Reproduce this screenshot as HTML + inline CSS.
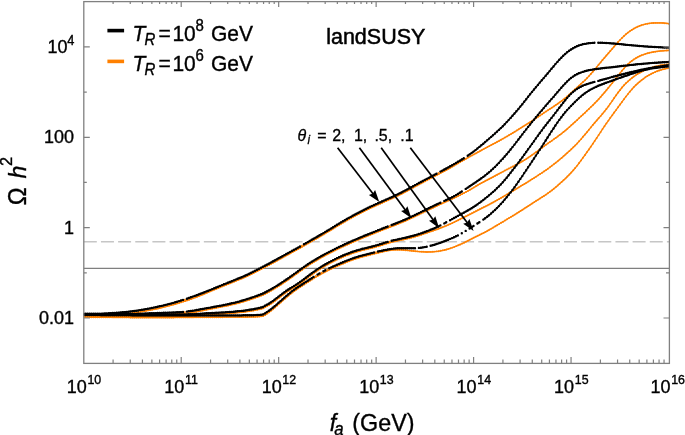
<!DOCTYPE html>
<html><head><meta charset="utf-8"><title>plot</title>
<style>
html,body{margin:0;padding:0;background:#fff;}
body{width:685px;height:435px;overflow:hidden;}
svg{display:block;will-change:transform;}
text{font-family:"Liberation Sans",sans-serif;fill:#000;}
.it{font-style:italic;}
</style></head><body>
<svg width="685" height="435" viewBox="0 0 685 435">
<rect x="0" y="0" width="685" height="435" fill="#fff"/>

<line x1="83.8" y1="241.8" x2="669.5" y2="241.8" stroke="#c6c6c6" stroke-width="1.6" stroke-dasharray="13 4.15" stroke-dashoffset="0"/>
<line x1="83.8" y1="268.4" x2="669.5" y2="268.4" stroke="#7f7f7f" stroke-width="1.3"/>
<clipPath id="cp"><rect x="83.8" y="1.6" width="585.6" height="361.8"/></clipPath><g clip-path="url(#cp)">
<path d="M83.8 315.6L85.8 315.6L87.7 315.6L89.7 315.6L91.6 315.6L93.6 315.5L95.5 315.5L97.5 315.5L99.4 315.4L101.4 315.4L103.3 315.3L105.3 315.2L107.2 315.1L109.2 315.0L111.1 314.8L113.1 314.7L115.0 314.5L117.0 314.4L118.9 314.3L120.9 314.1L122.8 314.0L124.8 313.8L126.7 313.6L128.7 313.4L130.6 313.2L132.6 313.0L134.5 312.7L136.5 312.5L138.4 312.2L140.4 311.8L142.3 311.5L144.3 311.2L146.2 310.8L148.2 310.4L150.1 310.1L152.1 309.7L154.0 309.3L156.0 308.9L157.9 308.5L159.9 308.0L161.8 307.6L163.8 307.1L165.7 306.6L167.7 306.1L169.6 305.6L171.6 305.1L173.5 304.6L175.5 304.0L177.4 303.4L179.4 302.8L181.3 302.2L183.3 301.6L185.2 301.0L187.2 300.4L189.1 299.7L191.1 299.0L193.0 298.3L195.0 297.6L196.9 296.9L198.9 296.1L200.8 295.3L202.8 294.5L204.7 293.7L206.7 292.9L208.6 292.1L210.6 291.2L212.5 290.4L214.5 289.6L216.4 288.8L218.4 288.0L220.3 287.2L222.3 286.4L224.2 285.6L226.2 284.8L228.1 284.1L230.1 283.3L232.0 282.5L234.0 281.7L235.9 280.9L237.9 280.1L239.8 279.3L241.8 278.5L243.7 277.7L245.7 276.8L247.6 276.0L249.6 275.0L251.5 274.1L253.5 273.1L255.4 272.1L257.4 271.1L259.3 270.1L261.3 269.1L263.2 268.1L265.2 267.0L267.1 266.0L269.1 265.0L271.0 263.9L273.0 262.8L274.9 261.8L276.9 260.7L278.8 259.6L280.8 258.6L282.7 257.5L284.7 256.4L286.6 255.3L288.6 254.3L290.5 253.2L292.5 252.1L294.4 251.1L296.4 250.0L298.3 248.9L300.3 247.8L302.2 246.7L304.2 245.6L306.1 244.5L308.1 243.4L310.0 242.3L312.0 241.1L313.9 240.0L315.9 238.9L317.8 237.8L319.8 236.6L321.7 235.5L323.7 234.4L325.6 233.2L327.6 232.0L329.5 230.9L331.5 229.7L333.4 228.5L335.4 227.3L337.3 226.1L339.3 224.9L341.2 223.7L343.2 222.6L345.1 221.5L347.1 220.3L349.0 219.2L351.0 218.2L352.9 217.1L354.9 216.0L356.8 215.0L358.8 214.0L360.7 213.0L362.7 212.0L364.6 211.0L366.6 210.0L368.5 209.1L370.5 208.1L372.4 207.2L374.4 206.3L376.3 205.4L378.3 204.5L380.2 203.7L382.2 202.8L384.1 201.9L386.1 201.1L388.0 200.2L390.0 199.3L391.9 198.5L393.9 197.6L395.8 196.6L397.8 195.7L399.7 194.7L401.7 193.8L403.6 192.7L405.6 191.7L407.5 190.7L409.5 189.6L411.4 188.6L413.4 187.5L415.3 186.4L417.3 185.4L419.2 184.3L421.2 183.3L423.1 182.3L425.1 181.2L427.0 180.2L429.0 179.2L430.9 178.1L432.9 177.1L434.8 176.1L436.8 175.1L438.7 174.1L440.7 173.0L442.6 172.0L444.6 171.0L446.5 169.9L448.5 168.8L450.4 167.7L452.4 166.6L454.3 165.5L456.3 164.3L458.2 163.2L460.2 162.0L462.1 160.9L464.1 159.8L466.0 158.7L468.0 157.6L469.9 156.5L471.9 155.5L473.8 154.4L475.8 153.4L477.7 152.3L479.7 151.3L481.6 150.2L483.6 149.1L485.5 148.1L487.5 147.0L489.4 146.0L491.4 144.9L493.3 143.9L495.3 142.9L497.2 141.8L499.2 140.8L501.1 139.7L503.1 138.6L505.0 137.5L507.0 136.4L508.9 135.2L510.9 134.1L512.8 132.9L514.8 131.7L516.7 130.5L518.7 129.3L520.6 128.1L522.6 126.8L524.5 125.6L526.5 124.4L528.4 123.2L530.4 121.9L532.3 120.7L534.3 119.4L536.2 118.1L538.2 116.8L540.1 115.5L542.1 114.2L544.0 112.8L546.0 111.5L547.9 110.2L549.9 108.9L551.8 107.7L553.8 106.4L555.7 105.1L557.7 103.8L559.6 102.4L561.6 101.0L563.5 99.5L565.5 97.9L567.4 96.2L569.4 94.4L571.3 92.7L573.3 90.9L575.2 89.1L577.2 87.4L579.1 85.6L581.1 83.8L583.0 82.0L585.0 80.2L586.9 78.2L588.9 76.1L590.8 74.0L592.8 71.8L594.7 69.5L596.7 67.1L598.6 64.7L600.6 62.4L602.5 60.0L604.5 57.7L606.4 55.5L608.4 53.2L610.3 51.0L612.3 48.7L614.2 46.5L616.2 44.2L618.1 42.0L620.1 39.9L622.0 37.9L624.0 36.0L625.9 34.2L627.9 32.6L629.8 31.2L631.8 29.9L633.7 28.7L635.7 27.6L637.6 26.7L639.6 25.9L641.5 25.2L643.5 24.6L645.4 24.1L647.4 23.7L649.3 23.4L651.3 23.1L653.2 23.0L655.2 22.9L657.1 22.9L659.1 22.9L661.0 22.9L663.0 23.0L664.9 23.2L666.9 23.4L668.8 23.7" fill="none" stroke="#ff8000" stroke-width="1.35" stroke-linejoin="round"/>
<path d="M83.8 315.6h0M85.8 315.6h0M87.7 315.6h0M89.7 315.6h0M91.6 315.6h0M93.6 315.5h0M95.5 315.5h0M97.5 315.5h0M99.4 315.4h0M101.4 315.4h0M103.3 315.3h0M105.3 315.2h0M107.2 315.1h0M109.2 315.0h0M111.1 314.8h0M113.1 314.7h0M115.0 314.5h0M117.0 314.4h0M118.9 314.3h0M120.9 314.1h0M122.8 314.0h0M124.8 313.8h0M126.7 313.6h0M128.7 313.4h0M130.6 313.2h0M132.6 313.0h0M134.5 312.7h0M136.5 312.5h0M138.4 312.2h0M140.4 311.8h0M142.3 311.5h0M144.3 311.2h0M146.2 310.8h0M148.2 310.4h0M150.1 310.1h0M152.1 309.7h0M154.0 309.3h0M156.0 308.9h0M157.9 308.5h0M159.9 308.0h0M161.8 307.6h0M163.8 307.1h0M165.7 306.6h0M167.7 306.1h0M169.6 305.6h0M171.6 305.1h0M173.5 304.6h0M175.5 304.0h0M177.4 303.4h0M179.4 302.8h0M181.3 302.2h0M183.3 301.6h0M185.2 301.0h0M187.2 300.4h0M189.1 299.7h0M191.1 299.0h0M193.0 298.3h0M195.0 297.6h0M196.9 296.9h0M198.9 296.1h0M200.8 295.3h0M202.8 294.5h0M204.7 293.7h0M206.7 292.9h0M208.6 292.1h0M210.6 291.2h0M212.5 290.4h0M214.5 289.6h0M216.4 288.8h0M218.4 288.0h0M220.3 287.2h0M222.3 286.4h0M224.2 285.6h0M226.2 284.8h0M228.1 284.1h0M230.1 283.3h0M232.0 282.5h0M234.0 281.7h0M235.9 280.9h0M237.9 280.1h0M239.8 279.3h0M241.8 278.5h0M243.7 277.7h0M245.7 276.8h0M247.6 276.0h0M249.6 275.0h0M251.5 274.1h0M253.5 273.1h0M255.4 272.1h0M257.4 271.1h0M259.3 270.1h0M261.3 269.1h0M263.2 268.1h0M265.2 267.0h0M267.1 266.0h0M269.1 265.0h0M271.0 263.9h0M273.0 262.8h0M274.9 261.8h0M276.9 260.7h0M278.8 259.6h0M280.8 258.6h0M282.7 257.5h0M284.7 256.4h0M286.6 255.3h0M288.6 254.3h0M290.5 253.2h0M292.5 252.1h0M294.4 251.1h0M296.4 250.0h0M298.3 248.9h0M300.3 247.8h0M302.2 246.7h0M304.2 245.6h0M306.1 244.5h0M308.1 243.4h0M310.0 242.3h0M312.0 241.1h0M313.9 240.0h0M315.9 238.9h0M317.8 237.8h0M319.8 236.6h0M321.7 235.5h0M323.7 234.4h0M325.6 233.2h0M327.6 232.0h0M329.5 230.9h0M331.5 229.7h0M333.4 228.5h0M335.4 227.3h0M337.3 226.1h0M339.3 224.9h0M341.2 223.7h0M343.2 222.6h0M345.1 221.5h0M347.1 220.3h0M349.0 219.2h0M351.0 218.2h0M352.9 217.1h0M354.9 216.0h0M356.8 215.0h0M358.8 214.0h0M360.7 213.0h0M362.7 212.0h0M364.6 211.0h0M366.6 210.0h0M368.5 209.1h0M370.5 208.1h0M372.4 207.2h0M374.4 206.3h0M376.3 205.4h0M378.3 204.5h0M380.2 203.7h0M382.2 202.8h0M384.1 201.9h0M386.1 201.1h0M388.0 200.2h0M390.0 199.3h0M391.9 198.5h0M393.9 197.6h0M395.8 196.6h0M397.8 195.7h0M399.7 194.7h0M401.7 193.8h0M403.6 192.7h0M405.6 191.7h0M407.5 190.7h0M409.5 189.6h0M411.4 188.6h0M413.4 187.5h0M415.3 186.4h0M417.3 185.4h0M419.2 184.3h0M421.2 183.3h0M423.1 182.3h0M425.1 181.2h0M427.0 180.2h0M429.0 179.2h0M430.9 178.1h0M432.9 177.1h0M434.8 176.1h0M436.8 175.1h0M438.7 174.1h0M440.7 173.0h0M442.6 172.0h0M444.6 171.0h0M446.5 169.9h0M448.5 168.8h0M450.4 167.7h0M452.4 166.6h0M454.3 165.5h0M456.3 164.3h0M458.2 163.2h0M460.2 162.0h0M462.1 160.9h0M464.1 159.8h0M466.0 158.7h0M468.0 157.6h0M469.9 156.5h0M471.9 155.5h0M473.8 154.4h0M475.8 153.4h0M477.7 152.3h0M479.7 151.3h0M481.6 150.2h0M483.6 149.1h0M485.5 148.1h0M487.5 147.0h0M489.4 146.0h0M491.4 144.9h0M493.3 143.9h0M495.3 142.9h0M497.2 141.8h0M499.2 140.8h0M501.1 139.7h0M503.1 138.6h0M505.0 137.5h0M507.0 136.4h0M508.9 135.2h0M510.9 134.1h0M512.8 132.9h0M514.8 131.7h0M516.7 130.5h0M518.7 129.3h0M520.6 128.1h0M522.6 126.8h0M524.5 125.6h0M526.5 124.4h0M528.4 123.2h0M530.4 121.9h0M532.3 120.7h0M534.3 119.4h0M536.2 118.1h0M538.2 116.8h0M540.1 115.5h0M542.1 114.2h0M544.0 112.8h0M546.0 111.5h0M547.9 110.2h0M549.9 108.9h0M551.8 107.7h0M553.8 106.4h0M555.7 105.1h0M557.7 103.8h0M559.6 102.4h0M561.6 101.0h0M563.5 99.5h0M565.5 97.9h0M567.4 96.2h0M569.4 94.4h0M571.3 92.7h0M573.3 90.9h0M575.2 89.1h0M577.2 87.4h0M579.1 85.6h0M581.1 83.8h0M583.0 82.0h0M585.0 80.2h0M586.9 78.2h0M588.9 76.1h0M590.8 74.0h0M592.8 71.8h0M594.7 69.5h0M596.7 67.1h0M598.6 64.7h0M600.6 62.4h0M602.5 60.0h0M604.5 57.7h0M606.4 55.5h0M608.4 53.2h0M610.3 51.0h0M612.3 48.7h0M614.2 46.5h0M616.2 44.2h0M618.1 42.0h0M620.1 39.9h0M622.0 37.9h0M624.0 36.0h0M625.9 34.2h0M627.9 32.6h0M629.8 31.2h0M631.8 29.9h0M633.7 28.7h0M635.7 27.6h0M637.6 26.7h0M639.6 25.9h0M641.5 25.2h0M643.5 24.6h0M645.4 24.1h0M647.4 23.7h0M649.3 23.4h0M651.3 23.1h0M653.2 23.0h0M655.2 22.9h0M657.1 22.9h0M659.1 22.9h0M661.0 22.9h0M663.0 23.0h0M664.9 23.2h0M666.9 23.4h0M668.8 23.7h0" fill="none" stroke="#ff8000" stroke-width="1.9" stroke-linecap="round"/>
<path d="M83.8 316.1L85.8 316.1L87.7 316.1L89.7 316.1L91.6 316.1L93.6 316.1L95.5 316.1L97.5 316.1L99.4 316.0L101.4 316.0L103.3 316.0L105.3 316.0L107.2 316.0L109.2 316.0L111.1 315.9L113.1 315.9L115.0 315.9L117.0 315.9L118.9 315.9L120.9 315.8L122.8 315.8L124.8 315.8L126.7 315.7L128.7 315.7L130.6 315.7L132.6 315.6L134.5 315.6L136.5 315.5L138.4 315.5L140.4 315.4L142.3 315.3L144.3 315.3L146.2 315.2L148.2 315.1L150.1 315.0L152.1 314.9L154.0 314.9L156.0 314.8L157.9 314.7L159.9 314.6L161.8 314.6L163.8 314.5L165.7 314.4L167.7 314.4L169.6 314.3L171.6 314.3L173.5 314.2L175.5 314.1L177.4 314.0L179.4 313.9L181.3 313.8L183.3 313.7L185.2 313.5L187.2 313.3L189.1 313.0L191.1 312.7L193.0 312.4L195.0 312.1L196.9 311.7L198.9 311.3L200.8 310.9L202.8 310.5L204.7 310.1L206.7 309.7L208.6 309.3L210.6 308.9L212.5 308.5L214.5 308.2L216.4 307.8L218.4 307.4L220.3 307.0L222.3 306.6L224.2 306.3L226.2 305.9L228.1 305.5L230.1 305.0L232.0 304.6L234.0 304.2L235.9 303.7L237.9 303.2L239.8 302.7L241.8 302.1L243.7 301.5L245.7 300.9L247.6 300.3L249.6 299.7L251.5 299.1L253.5 298.4L255.4 297.7L257.4 297.0L259.3 296.3L261.3 295.6L263.2 294.8L265.2 293.8L267.1 292.8L269.1 291.7L271.0 290.7L273.0 289.5L274.9 288.4L276.9 287.2L278.8 286.0L280.8 284.7L282.7 283.4L284.7 282.1L286.6 280.8L288.6 279.5L290.5 278.1L292.5 276.7L294.4 275.3L296.4 273.9L298.3 272.5L300.3 271.0L302.2 269.7L304.2 268.3L306.1 266.9L308.1 265.6L310.0 264.3L312.0 263.1L313.9 261.9L315.9 260.7L317.8 259.6L319.8 258.4L321.7 257.3L323.7 256.3L325.6 255.2L327.6 254.2L329.5 253.2L331.5 252.2L333.4 251.2L335.4 250.2L337.3 249.2L339.3 248.3L341.2 247.4L343.2 246.5L345.1 245.6L347.1 244.7L349.0 243.8L351.0 242.9L352.9 242.1L354.9 241.2L356.8 240.4L358.8 239.6L360.7 238.7L362.7 237.9L364.6 237.1L366.6 236.3L368.5 235.5L370.5 234.7L372.4 234.0L374.4 233.2L376.3 232.4L378.3 231.6L380.2 230.9L382.2 230.1L384.1 229.3L386.1 228.5L388.0 227.8L390.0 227.0L391.9 226.3L393.9 225.5L395.8 224.8L397.8 224.0L399.7 223.2L401.7 222.4L403.6 221.6L405.6 220.8L407.5 219.9L409.5 219.0L411.4 218.1L413.4 217.2L415.3 216.2L417.3 215.3L419.2 214.4L421.2 213.4L423.1 212.5L425.1 211.5L427.0 210.6L429.0 209.6L430.9 208.7L432.9 207.8L434.8 206.8L436.8 205.9L438.7 205.0L440.7 204.1L442.6 203.2L444.6 202.3L446.5 201.4L448.5 200.5L450.4 199.6L452.4 198.7L454.3 197.8L456.3 196.9L458.2 196.0L460.2 195.0L462.1 194.0L464.1 193.0L466.0 192.0L468.0 190.9L469.9 189.8L471.9 188.6L473.8 187.5L475.8 186.3L477.7 185.2L479.7 184.0L481.6 182.9L483.6 181.9L485.5 180.8L487.5 179.8L489.4 178.8L491.4 177.8L493.3 176.8L495.3 175.7L497.2 174.7L499.2 173.6L501.1 172.6L503.1 171.6L505.0 170.5L507.0 169.5L508.9 168.5L510.9 167.5L512.8 166.5L514.8 165.5L516.7 164.4L518.7 163.4L520.6 162.3L522.6 161.2L524.5 160.0L526.5 158.8L528.4 157.5L530.4 156.2L532.3 154.8L534.3 153.5L536.2 152.0L538.2 150.6L540.1 149.1L542.1 147.7L544.0 146.3L546.0 144.8L547.9 143.4L549.9 142.0L551.8 140.7L553.8 139.3L555.7 137.9L557.7 136.5L559.6 135.0L561.6 133.6L563.5 132.0L565.5 130.4L567.4 128.8L569.4 127.1L571.3 125.3L573.3 123.5L575.2 121.8L577.2 120.0L579.1 118.1L581.1 116.3L583.0 114.5L585.0 112.7L586.9 110.8L588.9 109.0L590.8 107.1L592.8 105.2L594.7 103.3L596.7 101.3L598.6 99.2L600.6 97.0L602.5 94.8L604.5 92.5L606.4 90.2L608.4 87.8L610.3 85.4L612.3 83.0L614.2 80.5L616.2 78.0L618.1 75.5L620.1 73.1L622.0 70.7L624.0 68.4L625.9 66.3L627.9 64.3L629.8 62.5L631.8 60.9L633.7 59.5L635.7 58.3L637.6 57.2L639.6 56.2L641.5 55.3L643.5 54.6L645.4 53.9L647.4 53.3L649.3 52.8L651.3 52.4L653.2 52.0L655.2 51.7L657.1 51.4L659.1 51.1L661.0 50.9L663.0 50.8L664.9 50.6L666.9 50.5L668.8 50.4" fill="none" stroke="#ff8000" stroke-width="1.35" stroke-linejoin="round"/>
<path d="M83.8 316.1h0M85.8 316.1h0M87.7 316.1h0M89.7 316.1h0M91.6 316.1h0M93.6 316.1h0M95.5 316.1h0M97.5 316.1h0M99.4 316.0h0M101.4 316.0h0M103.3 316.0h0M105.3 316.0h0M107.2 316.0h0M109.2 316.0h0M111.1 315.9h0M113.1 315.9h0M115.0 315.9h0M117.0 315.9h0M118.9 315.9h0M120.9 315.8h0M122.8 315.8h0M124.8 315.8h0M126.7 315.7h0M128.7 315.7h0M130.6 315.7h0M132.6 315.6h0M134.5 315.6h0M136.5 315.5h0M138.4 315.5h0M140.4 315.4h0M142.3 315.3h0M144.3 315.3h0M146.2 315.2h0M148.2 315.1h0M150.1 315.0h0M152.1 314.9h0M154.0 314.9h0M156.0 314.8h0M157.9 314.7h0M159.9 314.6h0M161.8 314.6h0M163.8 314.5h0M165.7 314.4h0M167.7 314.4h0M169.6 314.3h0M171.6 314.3h0M173.5 314.2h0M175.5 314.1h0M177.4 314.0h0M179.4 313.9h0M181.3 313.8h0M183.3 313.7h0M185.2 313.5h0M187.2 313.3h0M189.1 313.0h0M191.1 312.7h0M193.0 312.4h0M195.0 312.1h0M196.9 311.7h0M198.9 311.3h0M200.8 310.9h0M202.8 310.5h0M204.7 310.1h0M206.7 309.7h0M208.6 309.3h0M210.6 308.9h0M212.5 308.5h0M214.5 308.2h0M216.4 307.8h0M218.4 307.4h0M220.3 307.0h0M222.3 306.6h0M224.2 306.3h0M226.2 305.9h0M228.1 305.5h0M230.1 305.0h0M232.0 304.6h0M234.0 304.2h0M235.9 303.7h0M237.9 303.2h0M239.8 302.7h0M241.8 302.1h0M243.7 301.5h0M245.7 300.9h0M247.6 300.3h0M249.6 299.7h0M251.5 299.1h0M253.5 298.4h0M255.4 297.7h0M257.4 297.0h0M259.3 296.3h0M261.3 295.6h0M263.2 294.8h0M265.2 293.8h0M267.1 292.8h0M269.1 291.7h0M271.0 290.7h0M273.0 289.5h0M274.9 288.4h0M276.9 287.2h0M278.8 286.0h0M280.8 284.7h0M282.7 283.4h0M284.7 282.1h0M286.6 280.8h0M288.6 279.5h0M290.5 278.1h0M292.5 276.7h0M294.4 275.3h0M296.4 273.9h0M298.3 272.5h0M300.3 271.0h0M302.2 269.7h0M304.2 268.3h0M306.1 266.9h0M308.1 265.6h0M310.0 264.3h0M312.0 263.1h0M313.9 261.9h0M315.9 260.7h0M317.8 259.6h0M319.8 258.4h0M321.7 257.3h0M323.7 256.3h0M325.6 255.2h0M327.6 254.2h0M329.5 253.2h0M331.5 252.2h0M333.4 251.2h0M335.4 250.2h0M337.3 249.2h0M339.3 248.3h0M341.2 247.4h0M343.2 246.5h0M345.1 245.6h0M347.1 244.7h0M349.0 243.8h0M351.0 242.9h0M352.9 242.1h0M354.9 241.2h0M356.8 240.4h0M358.8 239.6h0M360.7 238.7h0M362.7 237.9h0M364.6 237.1h0M366.6 236.3h0M368.5 235.5h0M370.5 234.7h0M372.4 234.0h0M374.4 233.2h0M376.3 232.4h0M378.3 231.6h0M380.2 230.9h0M382.2 230.1h0M384.1 229.3h0M386.1 228.5h0M388.0 227.8h0M390.0 227.0h0M391.9 226.3h0M393.9 225.5h0M395.8 224.8h0M397.8 224.0h0M399.7 223.2h0M401.7 222.4h0M403.6 221.6h0M405.6 220.8h0M407.5 219.9h0M409.5 219.0h0M411.4 218.1h0M413.4 217.2h0M415.3 216.2h0M417.3 215.3h0M419.2 214.4h0M421.2 213.4h0M423.1 212.5h0M425.1 211.5h0M427.0 210.6h0M429.0 209.6h0M430.9 208.7h0M432.9 207.8h0M434.8 206.8h0M436.8 205.9h0M438.7 205.0h0M440.7 204.1h0M442.6 203.2h0M444.6 202.3h0M446.5 201.4h0M448.5 200.5h0M450.4 199.6h0M452.4 198.7h0M454.3 197.8h0M456.3 196.9h0M458.2 196.0h0M460.2 195.0h0M462.1 194.0h0M464.1 193.0h0M466.0 192.0h0M468.0 190.9h0M469.9 189.8h0M471.9 188.6h0M473.8 187.5h0M475.8 186.3h0M477.7 185.2h0M479.7 184.0h0M481.6 182.9h0M483.6 181.9h0M485.5 180.8h0M487.5 179.8h0M489.4 178.8h0M491.4 177.8h0M493.3 176.8h0M495.3 175.7h0M497.2 174.7h0M499.2 173.6h0M501.1 172.6h0M503.1 171.6h0M505.0 170.5h0M507.0 169.5h0M508.9 168.5h0M510.9 167.5h0M512.8 166.5h0M514.8 165.5h0M516.7 164.4h0M518.7 163.4h0M520.6 162.3h0M522.6 161.2h0M524.5 160.0h0M526.5 158.8h0M528.4 157.5h0M530.4 156.2h0M532.3 154.8h0M534.3 153.5h0M536.2 152.0h0M538.2 150.6h0M540.1 149.1h0M542.1 147.7h0M544.0 146.3h0M546.0 144.8h0M547.9 143.4h0M549.9 142.0h0M551.8 140.7h0M553.8 139.3h0M555.7 137.9h0M557.7 136.5h0M559.6 135.0h0M561.6 133.6h0M563.5 132.0h0M565.5 130.4h0M567.4 128.8h0M569.4 127.1h0M571.3 125.3h0M573.3 123.5h0M575.2 121.8h0M577.2 120.0h0M579.1 118.1h0M581.1 116.3h0M583.0 114.5h0M585.0 112.7h0M586.9 110.8h0M588.9 109.0h0M590.8 107.1h0M592.8 105.2h0M594.7 103.3h0M596.7 101.3h0M598.6 99.2h0M600.6 97.0h0M602.5 94.8h0M604.5 92.5h0M606.4 90.2h0M608.4 87.8h0M610.3 85.4h0M612.3 83.0h0M614.2 80.5h0M616.2 78.0h0M618.1 75.5h0M620.1 73.1h0M622.0 70.7h0M624.0 68.4h0M625.9 66.3h0M627.9 64.3h0M629.8 62.5h0M631.8 60.9h0M633.7 59.5h0M635.7 58.3h0M637.6 57.2h0M639.6 56.2h0M641.5 55.3h0M643.5 54.6h0M645.4 53.9h0M647.4 53.3h0M649.3 52.8h0M651.3 52.4h0M653.2 52.0h0M655.2 51.7h0M657.1 51.4h0M659.1 51.1h0M661.0 50.9h0M663.0 50.8h0M664.9 50.6h0M666.9 50.5h0M668.8 50.4h0" fill="none" stroke="#ff8000" stroke-width="1.9" stroke-linecap="round"/>
<path d="M83.8 316.6L85.8 316.6L87.7 316.6L89.7 316.6L91.6 316.6L93.6 316.6L95.5 316.6L97.5 316.6L99.4 316.6L101.4 316.6L103.3 316.6L105.3 316.6L107.2 316.6L109.2 316.6L111.1 316.6L113.1 316.6L115.0 316.6L117.0 316.6L118.9 316.6L120.9 316.6L122.8 316.5L124.8 316.5L126.7 316.5L128.7 316.5L130.6 316.5L132.6 316.5L134.5 316.5L136.5 316.5L138.4 316.5L140.4 316.5L142.3 316.5L144.3 316.5L146.2 316.5L148.2 316.4L150.1 316.4L152.1 316.4L154.0 316.4L156.0 316.4L157.9 316.4L159.9 316.4L161.8 316.4L163.8 316.3L165.7 316.3L167.7 316.3L169.6 316.3L171.6 316.3L173.5 316.3L175.5 316.2L177.4 316.2L179.4 316.2L181.3 316.2L183.3 316.2L185.2 316.1L187.2 316.1L189.1 316.0L191.1 315.9L193.0 315.8L195.0 315.7L196.9 315.6L198.9 315.4L200.8 315.2L202.8 315.1L204.7 314.9L206.7 314.7L208.6 314.5L210.6 314.4L212.5 314.3L214.5 314.2L216.4 314.1L218.4 314.0L220.3 313.9L222.3 313.8L224.2 313.7L226.2 313.6L228.1 313.4L230.1 313.3L232.0 313.2L234.0 313.0L235.9 312.8L237.9 312.6L239.8 312.4L241.8 312.2L243.7 312.0L245.7 311.7L247.6 311.4L249.6 311.1L251.5 310.8L253.5 310.5L255.4 310.1L257.4 309.7L259.3 309.3L261.3 308.8L263.2 308.3L265.2 307.1L267.1 306.1L269.1 305.0L271.0 303.7L273.0 302.4L274.9 300.9L276.9 299.4L278.8 297.9L280.8 296.4L282.7 294.9L284.7 293.5L286.6 292.1L288.6 290.8L290.5 289.6L292.5 288.4L294.4 287.2L296.4 285.9L298.3 284.7L300.3 283.3L302.2 281.9L304.2 280.5L306.1 279.0L308.1 277.5L310.0 276.0L312.0 274.6L313.9 273.2L315.9 271.8L317.8 270.4L319.8 269.2L321.7 267.9L323.7 266.7L325.6 265.6L327.6 264.5L329.5 263.4L331.5 262.4L333.4 261.4L335.4 260.4L337.3 259.4L339.3 258.5L341.2 257.7L343.2 256.8L345.1 256.0L347.1 255.2L349.0 254.5L351.0 253.7L352.9 253.1L354.9 252.4L356.8 251.8L358.8 251.2L360.7 250.7L362.7 250.1L364.6 249.7L366.6 249.2L368.5 248.7L370.5 248.3L372.4 247.8L374.4 247.3L376.3 246.7L378.3 246.2L380.2 245.6L382.2 245.0L384.1 244.3L386.1 243.7L388.0 243.2L390.0 242.6L391.9 242.1L393.9 241.6L395.8 241.2L397.8 240.7L399.7 240.3L401.7 239.9L403.6 239.5L405.6 239.1L407.5 238.6L409.5 238.2L411.4 237.7L413.4 237.2L415.3 236.6L417.3 236.0L419.2 235.4L421.2 234.8L423.1 234.1L425.1 233.4L427.0 232.8L429.0 232.1L430.9 231.4L432.9 230.8L434.8 230.1L436.8 229.4L438.7 228.7L440.7 227.9L442.6 227.2L444.6 226.4L446.5 225.6L448.5 224.7L450.4 223.9L452.4 223.0L454.3 222.1L456.3 221.1L458.2 220.2L460.2 219.2L462.1 218.2L464.1 217.2L466.0 216.3L468.0 215.3L469.9 214.3L471.9 213.3L473.8 212.3L475.8 211.3L477.7 210.3L479.7 209.3L481.6 208.3L483.6 207.3L485.5 206.4L487.5 205.4L489.4 204.4L491.4 203.3L493.3 202.3L495.3 201.2L497.2 200.1L499.2 199.0L501.1 197.9L503.1 196.7L505.0 195.6L507.0 194.4L508.9 193.2L510.9 192.1L512.8 190.9L514.8 189.7L516.7 188.6L518.7 187.4L520.6 186.2L522.6 185.0L524.5 183.9L526.5 182.7L528.4 181.5L530.4 180.3L532.3 179.0L534.3 177.8L536.2 176.6L538.2 175.3L540.1 174.0L542.1 172.7L544.0 171.4L546.0 170.1L547.9 168.7L549.9 167.3L551.8 165.8L553.8 164.3L555.7 162.8L557.7 161.2L559.6 159.6L561.6 157.9L563.5 156.3L565.5 154.5L567.4 152.8L569.4 151.0L571.3 149.2L573.3 147.3L575.2 145.4L577.2 143.4L579.1 141.3L581.1 139.1L583.0 136.8L585.0 134.5L586.9 132.2L588.9 129.8L590.8 127.4L592.8 125.0L594.7 122.7L596.7 120.5L598.6 118.3L600.6 116.1L602.5 113.8L604.5 111.4L606.4 109.0L608.4 106.4L610.3 103.6L612.3 100.8L614.2 98.0L616.2 95.2L618.1 92.5L620.1 90.0L622.0 87.5L624.0 85.3L625.9 83.3L627.9 81.4L629.8 79.7L631.8 78.1L633.7 76.6L635.7 75.3L637.6 74.0L639.6 72.9L641.5 71.8L643.5 70.8L645.4 69.9L647.4 69.1L649.3 68.4L651.3 67.7L653.2 67.1L655.2 66.5L657.1 66.1L659.1 65.6L661.0 65.2L663.0 64.9L664.9 64.6L666.9 64.4L668.8 64.1" fill="none" stroke="#ff8000" stroke-width="1.35" stroke-linejoin="round"/>
<path d="M83.8 316.6h0M85.8 316.6h0M87.7 316.6h0M89.7 316.6h0M91.6 316.6h0M93.6 316.6h0M95.5 316.6h0M97.5 316.6h0M99.4 316.6h0M101.4 316.6h0M103.3 316.6h0M105.3 316.6h0M107.2 316.6h0M109.2 316.6h0M111.1 316.6h0M113.1 316.6h0M115.0 316.6h0M117.0 316.6h0M118.9 316.6h0M120.9 316.6h0M122.8 316.5h0M124.8 316.5h0M126.7 316.5h0M128.7 316.5h0M130.6 316.5h0M132.6 316.5h0M134.5 316.5h0M136.5 316.5h0M138.4 316.5h0M140.4 316.5h0M142.3 316.5h0M144.3 316.5h0M146.2 316.5h0M148.2 316.4h0M150.1 316.4h0M152.1 316.4h0M154.0 316.4h0M156.0 316.4h0M157.9 316.4h0M159.9 316.4h0M161.8 316.4h0M163.8 316.3h0M165.7 316.3h0M167.7 316.3h0M169.6 316.3h0M171.6 316.3h0M173.5 316.3h0M175.5 316.2h0M177.4 316.2h0M179.4 316.2h0M181.3 316.2h0M183.3 316.2h0M185.2 316.1h0M187.2 316.1h0M189.1 316.0h0M191.1 315.9h0M193.0 315.8h0M195.0 315.7h0M196.9 315.6h0M198.9 315.4h0M200.8 315.2h0M202.8 315.1h0M204.7 314.9h0M206.7 314.7h0M208.6 314.5h0M210.6 314.4h0M212.5 314.3h0M214.5 314.2h0M216.4 314.1h0M218.4 314.0h0M220.3 313.9h0M222.3 313.8h0M224.2 313.7h0M226.2 313.6h0M228.1 313.4h0M230.1 313.3h0M232.0 313.2h0M234.0 313.0h0M235.9 312.8h0M237.9 312.6h0M239.8 312.4h0M241.8 312.2h0M243.7 312.0h0M245.7 311.7h0M247.6 311.4h0M249.6 311.1h0M251.5 310.8h0M253.5 310.5h0M255.4 310.1h0M257.4 309.7h0M259.3 309.3h0M261.3 308.8h0M263.2 308.3h0M265.2 307.1h0M267.1 306.1h0M269.1 305.0h0M271.0 303.7h0M273.0 302.4h0M274.9 300.9h0M276.9 299.4h0M278.8 297.9h0M280.8 296.4h0M282.7 294.9h0M284.7 293.5h0M286.6 292.1h0M288.6 290.8h0M290.5 289.6h0M292.5 288.4h0M294.4 287.2h0M296.4 285.9h0M298.3 284.7h0M300.3 283.3h0M302.2 281.9h0M304.2 280.5h0M306.1 279.0h0M308.1 277.5h0M310.0 276.0h0M312.0 274.6h0M313.9 273.2h0M315.9 271.8h0M317.8 270.4h0M319.8 269.2h0M321.7 267.9h0M323.7 266.7h0M325.6 265.6h0M327.6 264.5h0M329.5 263.4h0M331.5 262.4h0M333.4 261.4h0M335.4 260.4h0M337.3 259.4h0M339.3 258.5h0M341.2 257.7h0M343.2 256.8h0M345.1 256.0h0M347.1 255.2h0M349.0 254.5h0M351.0 253.7h0M352.9 253.1h0M354.9 252.4h0M356.8 251.8h0M358.8 251.2h0M360.7 250.7h0M362.7 250.1h0M364.6 249.7h0M366.6 249.2h0M368.5 248.7h0M370.5 248.3h0M372.4 247.8h0M374.4 247.3h0M376.3 246.7h0M378.3 246.2h0M380.2 245.6h0M382.2 245.0h0M384.1 244.3h0M386.1 243.7h0M388.0 243.2h0M390.0 242.6h0M391.9 242.1h0M393.9 241.6h0M395.8 241.2h0M397.8 240.7h0M399.7 240.3h0M401.7 239.9h0M403.6 239.5h0M405.6 239.1h0M407.5 238.6h0M409.5 238.2h0M411.4 237.7h0M413.4 237.2h0M415.3 236.6h0M417.3 236.0h0M419.2 235.4h0M421.2 234.8h0M423.1 234.1h0M425.1 233.4h0M427.0 232.8h0M429.0 232.1h0M430.9 231.4h0M432.9 230.8h0M434.8 230.1h0M436.8 229.4h0M438.7 228.7h0M440.7 227.9h0M442.6 227.2h0M444.6 226.4h0M446.5 225.6h0M448.5 224.7h0M450.4 223.9h0M452.4 223.0h0M454.3 222.1h0M456.3 221.1h0M458.2 220.2h0M460.2 219.2h0M462.1 218.2h0M464.1 217.2h0M466.0 216.3h0M468.0 215.3h0M469.9 214.3h0M471.9 213.3h0M473.8 212.3h0M475.8 211.3h0M477.7 210.3h0M479.7 209.3h0M481.6 208.3h0M483.6 207.3h0M485.5 206.4h0M487.5 205.4h0M489.4 204.4h0M491.4 203.3h0M493.3 202.3h0M495.3 201.2h0M497.2 200.1h0M499.2 199.0h0M501.1 197.9h0M503.1 196.7h0M505.0 195.6h0M507.0 194.4h0M508.9 193.2h0M510.9 192.1h0M512.8 190.9h0M514.8 189.7h0M516.7 188.6h0M518.7 187.4h0M520.6 186.2h0M522.6 185.0h0M524.5 183.9h0M526.5 182.7h0M528.4 181.5h0M530.4 180.3h0M532.3 179.0h0M534.3 177.8h0M536.2 176.6h0M538.2 175.3h0M540.1 174.0h0M542.1 172.7h0M544.0 171.4h0M546.0 170.1h0M547.9 168.7h0M549.9 167.3h0M551.8 165.8h0M553.8 164.3h0M555.7 162.8h0M557.7 161.2h0M559.6 159.6h0M561.6 157.9h0M563.5 156.3h0M565.5 154.5h0M567.4 152.8h0M569.4 151.0h0M571.3 149.2h0M573.3 147.3h0M575.2 145.4h0M577.2 143.4h0M579.1 141.3h0M581.1 139.1h0M583.0 136.8h0M585.0 134.5h0M586.9 132.2h0M588.9 129.8h0M590.8 127.4h0M592.8 125.0h0M594.7 122.7h0M596.7 120.5h0M598.6 118.3h0M600.6 116.1h0M602.5 113.8h0M604.5 111.4h0M606.4 109.0h0M608.4 106.4h0M610.3 103.6h0M612.3 100.8h0M614.2 98.0h0M616.2 95.2h0M618.1 92.5h0M620.1 90.0h0M622.0 87.5h0M624.0 85.3h0M625.9 83.3h0M627.9 81.4h0M629.8 79.7h0M631.8 78.1h0M633.7 76.6h0M635.7 75.3h0M637.6 74.0h0M639.6 72.9h0M641.5 71.8h0M643.5 70.8h0M645.4 69.9h0M647.4 69.1h0M649.3 68.4h0M651.3 67.7h0M653.2 67.1h0M655.2 66.5h0M657.1 66.1h0M659.1 65.6h0M661.0 65.2h0M663.0 64.9h0M664.9 64.6h0M666.9 64.4h0M668.8 64.1h0" fill="none" stroke="#ff8000" stroke-width="1.9" stroke-linecap="round"/>
<path d="M83.8 317.1L85.8 317.1L87.7 317.1L89.7 317.2L91.6 317.2L93.6 317.2L95.5 317.2L97.5 317.2L99.4 317.3L101.4 317.3L103.3 317.3L105.3 317.3L107.2 317.3L109.2 317.3L111.1 317.3L113.1 317.4L115.0 317.4L117.0 317.4L118.9 317.4L120.9 317.4L122.8 317.4L124.8 317.4L126.7 317.4L128.7 317.4L130.6 317.5L132.6 317.5L134.5 317.5L136.5 317.5L138.4 317.5L140.4 317.5L142.3 317.5L144.3 317.5L146.2 317.5L148.2 317.5L150.1 317.5L152.1 317.5L154.0 317.5L156.0 317.5L157.9 317.5L159.9 317.5L161.8 317.5L163.8 317.5L165.7 317.5L167.7 317.5L169.6 317.5L171.6 317.5L173.5 317.5L175.5 317.4L177.4 317.4L179.4 317.4L181.3 317.4L183.3 317.4L185.2 317.4L187.2 317.4L189.1 317.4L191.1 317.4L193.0 317.4L195.0 317.3L196.9 317.3L198.9 317.3L200.8 317.3L202.8 317.3L204.7 317.3L206.7 317.3L208.6 317.3L210.6 317.2L212.5 317.2L214.5 317.2L216.4 317.2L218.4 317.2L220.3 317.2L222.3 317.2L224.2 317.1L226.2 317.1L228.1 317.1L230.1 317.1L232.0 317.1L234.0 317.1L235.9 317.1L237.9 317.1L239.8 317.0L241.8 317.0L243.7 317.0L245.7 317.0L247.6 317.0L249.6 316.9L251.5 316.9L253.5 316.9L255.4 316.8L257.4 316.7L259.3 316.5L261.3 316.3L263.2 316.0L265.2 315.0L267.1 313.6L269.1 312.2L271.0 310.7L273.0 309.2L274.9 307.5L276.9 305.8L278.8 304.1L280.8 302.4L282.7 300.6L284.7 298.9L286.6 297.2L288.6 295.6L290.5 294.0L292.5 292.4L294.4 291.0L296.4 289.6L298.3 288.3L300.3 287.0L302.2 285.8L304.2 284.5L306.1 283.2L308.1 282.0L310.0 280.7L312.0 279.5L313.9 278.2L315.9 277.0L317.8 275.9L319.8 274.7L321.7 273.6L323.7 272.6L325.6 271.6L327.6 270.6L329.5 269.6L331.5 268.7L333.4 267.8L335.4 266.9L337.3 266.0L339.3 265.2L341.2 264.3L343.2 263.5L345.1 262.7L347.1 261.9L349.0 261.2L351.0 260.4L352.9 259.7L354.9 259.1L356.8 258.4L358.8 257.8L360.7 257.2L362.7 256.7L364.6 256.2L366.6 255.7L368.5 255.2L370.5 254.7L372.4 254.2L374.4 253.7L376.3 253.3L378.3 252.8L380.2 252.3L382.2 251.9L384.1 251.4L386.1 251.0L388.0 250.6L390.0 250.3L391.9 250.1L393.9 249.9L395.8 249.8L397.8 249.8L399.7 249.8L401.7 249.9L403.6 250.1L405.6 250.2L407.5 250.4L409.5 250.6L411.4 250.8L413.4 251.0L415.3 251.2L417.3 251.4L419.2 251.6L421.2 251.7L423.1 251.8L425.1 251.9L427.0 252.0L429.0 251.9L430.9 251.9L432.9 251.8L434.8 251.6L436.8 251.4L438.7 251.2L440.7 250.8L442.6 250.4L444.6 250.0L446.5 249.5L448.5 248.9L450.4 248.3L452.4 247.6L454.3 246.9L456.3 246.1L458.2 245.3L460.2 244.5L462.1 243.6L464.1 242.7L466.0 241.7L468.0 240.7L469.9 239.7L471.9 238.7L473.8 237.7L475.8 236.7L477.7 235.8L479.7 234.8L481.6 233.8L483.6 232.9L485.5 231.9L487.5 230.8L489.4 229.7L491.4 228.6L493.3 227.5L495.3 226.3L497.2 225.2L499.2 224.0L501.1 222.8L503.1 221.7L505.0 220.5L507.0 219.3L508.9 218.1L510.9 217.0L512.8 215.8L514.8 214.6L516.7 213.4L518.7 212.2L520.6 210.9L522.6 209.7L524.5 208.4L526.5 207.2L528.4 205.9L530.4 204.6L532.3 203.4L534.3 202.1L536.2 200.8L538.2 199.6L540.1 198.4L542.1 197.1L544.0 195.9L546.0 194.6L547.9 193.2L549.9 191.8L551.8 190.4L553.8 188.8L555.7 187.2L557.7 185.5L559.6 183.8L561.6 182.0L563.5 180.2L565.5 178.4L567.4 176.5L569.4 174.5L571.3 172.5L573.3 170.3L575.2 168.0L577.2 165.6L579.1 163.0L581.1 160.4L583.0 157.7L585.0 155.0L586.9 152.2L588.9 149.5L590.8 146.7L592.8 143.8L594.7 140.9L596.7 138.0L598.6 135.1L600.6 132.1L602.5 129.1L604.5 126.2L606.4 123.4L608.4 120.6L610.3 117.8L612.3 115.2L614.2 112.5L616.2 109.9L618.1 107.2L620.1 104.5L622.0 101.9L624.0 99.2L625.9 96.6L627.9 94.1L629.8 91.7L631.8 89.4L633.7 87.3L635.7 85.3L637.6 83.5L639.6 81.7L641.5 80.2L643.5 78.7L645.4 77.3L647.4 76.0L649.3 74.9L651.3 73.8L653.2 72.9L655.2 72.0L657.1 71.2L659.1 70.5L661.0 69.9L663.0 69.3L664.9 68.9L666.9 68.4L668.8 68.1" fill="none" stroke="#ff8000" stroke-width="1.35" stroke-linejoin="round"/>
<path d="M83.8 317.1h0M85.8 317.1h0M87.7 317.1h0M89.7 317.2h0M91.6 317.2h0M93.6 317.2h0M95.5 317.2h0M97.5 317.2h0M99.4 317.3h0M101.4 317.3h0M103.3 317.3h0M105.3 317.3h0M107.2 317.3h0M109.2 317.3h0M111.1 317.3h0M113.1 317.4h0M115.0 317.4h0M117.0 317.4h0M118.9 317.4h0M120.9 317.4h0M122.8 317.4h0M124.8 317.4h0M126.7 317.4h0M128.7 317.4h0M130.6 317.5h0M132.6 317.5h0M134.5 317.5h0M136.5 317.5h0M138.4 317.5h0M140.4 317.5h0M142.3 317.5h0M144.3 317.5h0M146.2 317.5h0M148.2 317.5h0M150.1 317.5h0M152.1 317.5h0M154.0 317.5h0M156.0 317.5h0M157.9 317.5h0M159.9 317.5h0M161.8 317.5h0M163.8 317.5h0M165.7 317.5h0M167.7 317.5h0M169.6 317.5h0M171.6 317.5h0M173.5 317.5h0M175.5 317.4h0M177.4 317.4h0M179.4 317.4h0M181.3 317.4h0M183.3 317.4h0M185.2 317.4h0M187.2 317.4h0M189.1 317.4h0M191.1 317.4h0M193.0 317.4h0M195.0 317.3h0M196.9 317.3h0M198.9 317.3h0M200.8 317.3h0M202.8 317.3h0M204.7 317.3h0M206.7 317.3h0M208.6 317.3h0M210.6 317.2h0M212.5 317.2h0M214.5 317.2h0M216.4 317.2h0M218.4 317.2h0M220.3 317.2h0M222.3 317.2h0M224.2 317.1h0M226.2 317.1h0M228.1 317.1h0M230.1 317.1h0M232.0 317.1h0M234.0 317.1h0M235.9 317.1h0M237.9 317.1h0M239.8 317.0h0M241.8 317.0h0M243.7 317.0h0M245.7 317.0h0M247.6 317.0h0M249.6 316.9h0M251.5 316.9h0M253.5 316.9h0M255.4 316.8h0M257.4 316.7h0M259.3 316.5h0M261.3 316.3h0M263.2 316.0h0M265.2 315.0h0M267.1 313.6h0M269.1 312.2h0M271.0 310.7h0M273.0 309.2h0M274.9 307.5h0M276.9 305.8h0M278.8 304.1h0M280.8 302.4h0M282.7 300.6h0M284.7 298.9h0M286.6 297.2h0M288.6 295.6h0M290.5 294.0h0M292.5 292.4h0M294.4 291.0h0M296.4 289.6h0M298.3 288.3h0M300.3 287.0h0M302.2 285.8h0M304.2 284.5h0M306.1 283.2h0M308.1 282.0h0M310.0 280.7h0M312.0 279.5h0M313.9 278.2h0M315.9 277.0h0M317.8 275.9h0M319.8 274.7h0M321.7 273.6h0M323.7 272.6h0M325.6 271.6h0M327.6 270.6h0M329.5 269.6h0M331.5 268.7h0M333.4 267.8h0M335.4 266.9h0M337.3 266.0h0M339.3 265.2h0M341.2 264.3h0M343.2 263.5h0M345.1 262.7h0M347.1 261.9h0M349.0 261.2h0M351.0 260.4h0M352.9 259.7h0M354.9 259.1h0M356.8 258.4h0M358.8 257.8h0M360.7 257.2h0M362.7 256.7h0M364.6 256.2h0M366.6 255.7h0M368.5 255.2h0M370.5 254.7h0M372.4 254.2h0M374.4 253.7h0M376.3 253.3h0M378.3 252.8h0M380.2 252.3h0M382.2 251.9h0M384.1 251.4h0M386.1 251.0h0M388.0 250.6h0M390.0 250.3h0M391.9 250.1h0M393.9 249.9h0M395.8 249.8h0M397.8 249.8h0M399.7 249.8h0M401.7 249.9h0M403.6 250.1h0M405.6 250.2h0M407.5 250.4h0M409.5 250.6h0M411.4 250.8h0M413.4 251.0h0M415.3 251.2h0M417.3 251.4h0M419.2 251.6h0M421.2 251.7h0M423.1 251.8h0M425.1 251.9h0M427.0 252.0h0M429.0 251.9h0M430.9 251.9h0M432.9 251.8h0M434.8 251.6h0M436.8 251.4h0M438.7 251.2h0M440.7 250.8h0M442.6 250.4h0M444.6 250.0h0M446.5 249.5h0M448.5 248.9h0M450.4 248.3h0M452.4 247.6h0M454.3 246.9h0M456.3 246.1h0M458.2 245.3h0M460.2 244.5h0M462.1 243.6h0M464.1 242.7h0M466.0 241.7h0M468.0 240.7h0M469.9 239.7h0M471.9 238.7h0M473.8 237.7h0M475.8 236.7h0M477.7 235.8h0M479.7 234.8h0M481.6 233.8h0M483.6 232.9h0M485.5 231.9h0M487.5 230.8h0M489.4 229.7h0M491.4 228.6h0M493.3 227.5h0M495.3 226.3h0M497.2 225.2h0M499.2 224.0h0M501.1 222.8h0M503.1 221.7h0M505.0 220.5h0M507.0 219.3h0M508.9 218.1h0M510.9 217.0h0M512.8 215.8h0M514.8 214.6h0M516.7 213.4h0M518.7 212.2h0M520.6 210.9h0M522.6 209.7h0M524.5 208.4h0M526.5 207.2h0M528.4 205.9h0M530.4 204.6h0M532.3 203.4h0M534.3 202.1h0M536.2 200.8h0M538.2 199.6h0M540.1 198.4h0M542.1 197.1h0M544.0 195.9h0M546.0 194.6h0M547.9 193.2h0M549.9 191.8h0M551.8 190.4h0M553.8 188.8h0M555.7 187.2h0M557.7 185.5h0M559.6 183.8h0M561.6 182.0h0M563.5 180.2h0M565.5 178.4h0M567.4 176.5h0M569.4 174.5h0M571.3 172.5h0M573.3 170.3h0M575.2 168.0h0M577.2 165.6h0M579.1 163.0h0M581.1 160.4h0M583.0 157.7h0M585.0 155.0h0M586.9 152.2h0M588.9 149.5h0M590.8 146.7h0M592.8 143.8h0M594.7 140.9h0M596.7 138.0h0M598.6 135.1h0M600.6 132.1h0M602.5 129.1h0M604.5 126.2h0M606.4 123.4h0M608.4 120.6h0M610.3 117.8h0M612.3 115.2h0M614.2 112.5h0M616.2 109.9h0M618.1 107.2h0M620.1 104.5h0M622.0 101.9h0M624.0 99.2h0M625.9 96.6h0M627.9 94.1h0M629.8 91.7h0M631.8 89.4h0M633.7 87.3h0M635.7 85.3h0M637.6 83.5h0M639.6 81.7h0M641.5 80.2h0M643.5 78.7h0M645.4 77.3h0M647.4 76.0h0M649.3 74.9h0M651.3 73.8h0M653.2 72.9h0M655.2 72.0h0M657.1 71.2h0M659.1 70.5h0M661.0 69.9h0M663.0 69.3h0M664.9 68.9h0M666.9 68.4h0M668.8 68.1h0" fill="none" stroke="#ff8000" stroke-width="1.9" stroke-linecap="round"/>
<path d="M184.9 299.6h0M301.9 245.7h0M438.4 173.0h0M184.9 312.1h0M389.7 226.0h0M389.7 241.6h0M315.6 276.0h0M321.4 272.6h0M327.3 269.6h0M376.0 252.3h0" fill="none" stroke="#ff8000" stroke-width="1.9" stroke-linecap="round"/>
<path d="M83.5 313.7L85.5 313.7L87.4 313.7L89.4 313.7L91.3 313.8L93.3 313.8L95.2 313.8L97.2 313.7L99.1 313.7L101.1 313.7L103.0 313.6L105.0 313.5L106.9 313.4L108.9 313.3L110.8 313.1L112.8 313.0L114.7 312.9L116.7 312.7L118.6 312.6L120.6 312.4L122.5 312.3L124.5 312.1L126.4 311.9L128.4 311.7L130.3 311.5L132.3 311.3L134.2 311.0L136.2 310.8L138.1 310.5L140.1 310.1L142.0 309.8L144.0 309.5L145.9 309.1L147.9 308.7L149.8 308.4L151.8 308.0L153.7 307.6L155.7 307.2L157.6 306.8L159.6 306.3L161.5 305.9L163.5 305.4L165.4 304.9L167.4 304.4L169.3 303.9L171.3 303.4L173.2 302.9L175.2 302.3L177.1 301.7L179.1 301.1L181.0 300.5L183.0 299.9M186.9 298.7L188.8 298.0L190.8 297.3L192.7 296.6L194.7 295.9L196.6 295.2L198.6 294.5L200.5 293.8L202.5 293.0L204.4 292.2L206.4 291.4L208.3 290.7L210.3 289.9L212.2 289.1L214.2 288.3L216.1 287.5L218.1 286.7L220.0 285.9L222.0 285.1L223.9 284.3L225.9 283.6L227.8 282.8L229.8 282.0L231.7 281.2L233.7 280.4L235.6 279.6L237.6 278.8L239.5 278.0L241.5 277.2L243.4 276.4L245.4 275.5L247.3 274.7L249.3 273.7L251.2 272.8L253.2 271.8L255.1 270.8L257.1 269.8L259.0 268.8L261.0 267.8L262.9 266.8L264.9 265.7L266.8 264.7L268.8 263.7L270.7 262.6L272.7 261.5L274.6 260.5L276.6 259.4L278.5 258.3L280.5 257.3L282.4 256.2L284.4 255.1L286.3 254.0L288.3 253.0L290.2 251.9L292.2 250.8L294.1 249.8L296.1 248.7L298.0 247.6L300.0 246.5M303.9 244.3L305.8 243.2L307.8 242.1L309.7 241.0L311.7 239.8L313.6 238.7L315.6 237.6L317.5 236.5L319.5 235.3L321.4 234.2L323.4 233.1L325.3 231.9L327.3 230.7L329.2 229.6L331.2 228.4L333.1 227.2L335.1 226.0L337.0 224.8L339.0 223.6L340.9 222.4L342.9 221.3L344.8 220.2L346.8 219.0L348.7 217.9L350.7 216.9L352.6 215.8L354.6 214.7L356.5 213.7L358.5 212.7L360.4 211.7L362.4 210.7L364.3 209.7L366.3 208.7L368.2 207.8L370.2 206.8L372.1 205.9L374.1 205.0L376.0 204.1L378.0 203.2L379.9 202.4L381.9 201.5L383.8 200.6L385.8 199.8L387.7 198.9L389.7 198.0L391.6 197.2L393.6 196.3L395.5 195.3L397.5 194.4L399.4 193.4L401.4 192.5L403.3 191.4L405.3 190.4L407.2 189.4L409.2 188.3L411.1 187.3L413.1 186.2L415.0 185.1L417.0 184.1L418.9 183.0L420.9 182.0L422.8 181.0L424.8 179.9L426.7 178.9L428.7 177.9L430.6 176.8L432.6 175.8L434.5 174.8L436.5 173.7M440.4 171.6L442.3 170.6L444.3 169.5L446.2 168.5L448.2 167.4L450.1 166.3L452.1 165.2L454.0 164.1L456.0 163.0L457.9 161.8L459.9 160.7L461.8 159.5L463.8 158.3M467.7 155.7L469.6 154.4L471.6 153.0L473.5 151.6L475.5 150.1L477.4 148.5L479.4 146.9L481.3 145.3L483.3 143.7L485.2 142.0L487.2 140.3L489.1 138.6L491.1 136.9L493.0 135.2L495.0 133.5L496.9 131.8L498.9 129.9L500.8 128.1L502.8 126.2L504.7 124.2L506.7 122.1L508.3 120.4M508.6 120.1L510.6 117.9L512.5 115.8L514.5 113.5L516.4 111.3L518.4 109.0L520.3 106.6L522.3 104.2L523.9 102.1M524.2 101.7L526.2 99.2L528.1 96.8L530.1 94.3L531.7 92.3M532.0 91.9L534.0 89.5L535.9 87.2L537.9 84.9L539.8 82.6L541.8 80.3L543.7 78.1L545.7 75.8L547.6 73.5L549.3 71.5M549.6 71.1L551.5 68.8L553.5 66.5L555.4 64.1L557.4 61.9L559.3 59.7L561.3 57.7L563.2 55.8L565.2 54.0L567.1 52.3L569.1 50.8L571.0 49.5L573.0 48.3L574.9 47.2L576.9 46.3L578.8 45.5L580.8 44.9L582.7 44.3L584.7 43.9L586.6 43.6L588.6 43.3L590.5 43.1L592.5 42.9L594.4 42.8M598.3 42.8L600.3 42.8L602.2 42.8L604.2 42.9L606.1 43.0L608.1 43.1L610.0 43.2L612.0 43.4L613.9 43.5L615.9 43.7L617.8 43.9L619.8 44.1L621.7 44.3L623.7 44.5L625.6 44.7L627.6 44.9L629.5 45.1L631.5 45.3L633.4 45.4L635.4 45.6L637.3 45.8L639.3 46.0L641.2 46.1L643.2 46.3L645.1 46.4L647.1 46.5L649.0 46.7L651.0 46.8L652.9 46.9L654.9 47.0L656.8 47.1L658.8 47.2L660.7 47.3L662.7 47.4L664.6 47.5L666.6 47.6L668.5 47.6" fill="none" stroke="#000" stroke-width="1.5" stroke-linejoin="round"/>
<path d="M83.5 313.7h0M85.5 313.7h0M87.4 313.7h0M89.4 313.7h0M91.3 313.8h0M93.3 313.8h0M95.2 313.8h0M97.2 313.7h0M99.1 313.7h0M101.1 313.7h0M103.0 313.6h0M105.0 313.5h0M106.9 313.4h0M108.9 313.3h0M110.8 313.1h0M112.8 313.0h0M114.7 312.9h0M116.7 312.7h0M118.6 312.6h0M120.6 312.4h0M122.5 312.3h0M124.5 312.1h0M126.4 311.9h0M128.4 311.7h0M130.3 311.5h0M132.3 311.3h0M134.2 311.0h0M136.2 310.8h0M138.1 310.5h0M140.1 310.1h0M142.0 309.8h0M144.0 309.5h0M145.9 309.1h0M147.9 308.7h0M149.8 308.4h0M151.8 308.0h0M153.7 307.6h0M155.7 307.2h0M157.6 306.8h0M159.6 306.3h0M161.5 305.9h0M163.5 305.4h0M165.4 304.9h0M167.4 304.4h0M169.3 303.9h0M171.3 303.4h0M173.2 302.9h0M175.2 302.3h0M177.1 301.7h0M179.1 301.1h0M181.0 300.5h0M183.0 299.9h0M186.9 298.7h0M188.8 298.0h0M190.8 297.3h0M192.7 296.6h0M194.7 295.9h0M196.6 295.2h0M198.6 294.5h0M200.5 293.8h0M202.5 293.0h0M204.4 292.2h0M206.4 291.4h0M208.3 290.7h0M210.3 289.9h0M212.2 289.1h0M214.2 288.3h0M216.1 287.5h0M218.1 286.7h0M220.0 285.9h0M222.0 285.1h0M223.9 284.3h0M225.9 283.6h0M227.8 282.8h0M229.8 282.0h0M231.7 281.2h0M233.7 280.4h0M235.6 279.6h0M237.6 278.8h0M239.5 278.0h0M241.5 277.2h0M243.4 276.4h0M245.4 275.5h0M247.3 274.7h0M249.3 273.7h0M251.2 272.8h0M253.2 271.8h0M255.1 270.8h0M257.1 269.8h0M259.0 268.8h0M261.0 267.8h0M262.9 266.8h0M264.9 265.7h0M266.8 264.7h0M268.8 263.7h0M270.7 262.6h0M272.7 261.5h0M274.6 260.5h0M276.6 259.4h0M278.5 258.3h0M280.5 257.3h0M282.4 256.2h0M284.4 255.1h0M286.3 254.0h0M288.3 253.0h0M290.2 251.9h0M292.2 250.8h0M294.1 249.8h0M296.1 248.7h0M298.0 247.6h0M300.0 246.5h0M303.9 244.3h0M305.8 243.2h0M307.8 242.1h0M309.7 241.0h0M311.7 239.8h0M313.6 238.7h0M315.6 237.6h0M317.5 236.5h0M319.5 235.3h0M321.4 234.2h0M323.4 233.1h0M325.3 231.9h0M327.3 230.7h0M329.2 229.6h0M331.2 228.4h0M333.1 227.2h0M335.1 226.0h0M337.0 224.8h0M339.0 223.6h0M340.9 222.4h0M342.9 221.3h0M344.8 220.2h0M346.8 219.0h0M348.7 217.9h0M350.7 216.9h0M352.6 215.8h0M354.6 214.7h0M356.5 213.7h0M358.5 212.7h0M360.4 211.7h0M362.4 210.7h0M364.3 209.7h0M366.3 208.7h0M368.2 207.8h0M370.2 206.8h0M372.1 205.9h0M374.1 205.0h0M376.0 204.1h0M378.0 203.2h0M379.9 202.4h0M381.9 201.5h0M383.8 200.6h0M385.8 199.8h0M387.7 198.9h0M389.7 198.0h0M391.6 197.2h0M393.6 196.3h0M395.5 195.3h0M397.5 194.4h0M399.4 193.4h0M401.4 192.5h0M403.3 191.4h0M405.3 190.4h0M407.2 189.4h0M409.2 188.3h0M411.1 187.3h0M413.1 186.2h0M415.0 185.1h0M417.0 184.1h0M418.9 183.0h0M420.9 182.0h0M422.8 181.0h0M424.8 179.9h0M426.7 178.9h0M428.7 177.9h0M430.6 176.8h0M432.6 175.8h0M434.5 174.8h0M436.5 173.7h0M440.4 171.6h0M442.3 170.6h0M444.3 169.5h0M446.2 168.5h0M448.2 167.4h0M450.1 166.3h0M452.1 165.2h0M454.0 164.1h0M456.0 163.0h0M457.9 161.8h0M459.9 160.7h0M461.8 159.5h0M463.8 158.3h0M467.7 155.7h0M469.6 154.4h0M471.6 153.0h0M473.5 151.6h0M475.5 150.1h0M477.4 148.5h0M479.4 146.9h0M481.3 145.3h0M483.3 143.7h0M485.2 142.0h0M487.2 140.3h0M489.1 138.6h0M491.1 136.9h0M493.0 135.2h0M495.0 133.5h0M496.9 131.8h0M498.9 129.9h0M500.8 128.1h0M502.8 126.2h0M504.7 124.2h0M506.7 122.1h0M508.6 120.1h0M510.6 117.9h0M512.5 115.8h0M514.5 113.5h0M516.4 111.3h0M518.4 109.0h0M520.3 106.6h0M522.3 104.2h0M524.2 101.7h0M526.2 99.2h0M528.1 96.8h0M530.1 94.3h0M532.0 91.9h0M534.0 89.5h0M535.9 87.2h0M537.9 84.9h0M539.8 82.6h0M541.8 80.3h0M543.7 78.1h0M545.7 75.8h0M547.6 73.5h0M549.6 71.1h0M551.5 68.8h0M553.5 66.5h0M555.4 64.1h0M557.4 61.9h0M559.3 59.7h0M561.3 57.7h0M563.2 55.8h0M565.2 54.0h0M567.1 52.3h0M569.1 50.8h0M571.0 49.5h0M573.0 48.3h0M574.9 47.2h0M576.9 46.3h0M578.8 45.5h0M580.8 44.9h0M582.7 44.3h0M584.7 43.9h0M586.6 43.6h0M588.6 43.3h0M590.5 43.1h0M592.5 42.9h0M594.4 42.8h0M598.3 42.8h0M600.3 42.8h0M602.2 42.8h0M604.2 42.9h0M606.1 43.0h0M608.1 43.1h0M610.0 43.2h0M612.0 43.4h0M613.9 43.5h0M615.9 43.7h0M617.8 43.9h0M619.8 44.1h0M621.7 44.3h0M623.7 44.5h0M625.6 44.7h0M627.6 44.9h0M629.5 45.1h0M631.5 45.3h0M633.4 45.4h0M635.4 45.6h0M637.3 45.8h0M639.3 46.0h0M641.2 46.1h0M643.2 46.3h0M645.1 46.4h0M647.1 46.5h0M649.0 46.7h0M651.0 46.8h0M652.9 46.9h0M654.9 47.0h0M656.8 47.1h0M658.8 47.2h0M660.7 47.3h0M662.7 47.4h0M664.6 47.5h0M666.6 47.6h0M668.5 47.6h0" fill="none" stroke="#000" stroke-width="2.4" stroke-linecap="round"/>
<path d="M83.5 314.1L85.5 314.1L87.4 314.1L89.4 314.1L91.3 314.1L93.3 314.1L95.2 314.1L97.2 314.1L99.1 314.1L101.1 314.1L103.0 314.1L105.0 314.1L106.9 314.1L108.9 314.1L110.8 314.1L112.8 314.1L114.7 314.1L116.7 314.0L118.6 314.0L120.6 314.0L122.5 314.0L124.5 314.0L126.4 314.0L128.4 314.0L130.3 314.0L132.3 313.9L134.2 313.9L136.2 313.9L138.1 313.8L140.1 313.7L142.0 313.7L144.0 313.6L145.9 313.5L147.9 313.4L149.8 313.3L151.8 313.3L153.7 313.2L155.7 313.1L157.6 313.0L159.6 312.9L161.5 312.9L163.5 312.8L165.4 312.7L167.4 312.7L169.3 312.6L171.3 312.6L173.2 312.5L175.2 312.4L177.1 312.3L179.1 312.2L181.0 312.1L183.0 312.0M186.9 311.6L188.8 311.3L190.8 311.0L192.7 310.7L194.7 310.4L196.6 310.0L198.6 309.7L200.5 309.3L202.5 309.0L204.4 308.6L206.4 308.3L208.3 307.9L210.3 307.6L212.2 307.2L214.2 306.8L216.1 306.5L218.1 306.1L220.0 305.7L222.0 305.4L223.9 305.0L225.9 304.6L227.8 304.2L229.8 303.7L231.7 303.3L233.7 302.9L235.6 302.4L237.6 301.9L239.5 301.4L241.5 300.8L243.4 300.2L245.4 299.6L247.3 299.0L249.3 298.4L251.2 297.8L253.2 297.1L255.1 296.4L257.1 295.7L259.0 295.0L261.0 294.3L262.9 293.5L264.9 292.5L266.8 291.5L268.8 290.4L270.7 289.4L272.7 288.2L274.6 287.1L276.6 285.9L278.5 284.7L280.5 283.4L282.4 282.1L284.4 280.8L286.3 279.5L288.3 278.2L290.2 276.8L292.2 275.4L294.1 274.0L296.1 272.6L298.0 271.2L300.0 269.7L301.9 268.4L303.9 267.0L305.8 265.6L307.8 264.3L309.7 263.0L311.7 261.8L313.6 260.6L315.6 259.4L317.5 258.3L319.5 257.1L321.4 256.0L323.4 255.0L325.3 253.9L327.3 252.9L329.2 251.9L331.2 250.9L333.1 249.9L335.1 248.9L337.0 247.9L339.0 247.0L340.9 246.1L342.9 245.2L344.8 244.3L346.8 243.4L348.7 242.5L350.7 241.6L352.6 240.8L354.6 239.9L356.5 239.1L358.5 238.3L360.4 237.4L362.4 236.6L364.3 235.8L366.3 235.0L368.2 234.2L370.2 233.4L372.1 232.7L374.1 231.9L376.0 231.1L378.0 230.3L379.9 229.6L381.9 228.8L383.8 228.0L385.8 227.2L387.7 226.5M391.6 225.0L393.6 224.2L395.5 223.5L397.5 222.7L399.4 221.9L401.4 221.1L403.3 220.3L405.3 219.5L407.2 218.6L409.2 217.7L411.1 216.8L413.1 215.9L415.0 215.0L417.0 214.0L418.9 213.1L420.9 212.1L422.8 211.1L424.8 210.2L426.7 209.2L428.7 208.3L430.6 207.3L432.6 206.4L434.5 205.4L436.5 204.5L438.4 203.6L440.4 202.7M444.3 200.9L446.2 200.0L448.2 199.1L450.1 198.2L452.1 197.2L454.0 196.2L456.0 195.1L457.9 194.0L459.9 192.7L461.8 191.5M465.7 188.9L467.7 187.6L469.6 186.3L471.6 185.0L473.5 183.7L475.5 182.4L477.4 181.0L479.4 179.7L481.3 178.3L483.3 176.9L485.2 175.4L487.2 173.8L489.1 172.2L491.1 170.5L493.0 168.7L495.0 166.9L496.9 164.9L498.9 162.9L500.8 160.8L502.8 158.7L504.7 156.5L506.7 154.2L508.6 151.9L510.6 149.5L512.5 147.1L514.5 144.6L516.4 142.1L518.4 139.5L520.3 137.0L522.3 134.4L524.2 131.9L526.2 129.4L528.1 126.9L530.1 124.5L532.0 122.0L534.0 119.7L535.9 117.3L537.9 115.0L539.8 112.6L541.8 110.4L543.7 108.1L545.7 105.8L547.6 103.6L549.6 101.3L551.5 99.1L553.5 96.9L555.4 94.6L557.4 92.3L559.3 90.1L561.3 87.8L563.2 85.6L565.2 83.5L567.1 81.5L569.1 79.6L571.0 78.0L573.0 76.6L574.9 75.3L576.9 74.2L578.8 73.3L580.8 72.6L582.7 71.9L584.7 71.3L586.6 70.8L588.6 70.3L590.5 69.9L592.5 69.6L594.4 69.3L596.4 69.0L598.3 68.7L600.3 68.5L602.2 68.2L604.2 68.0L606.1 67.8L608.1 67.6L610.0 67.4L612.0 67.2L613.9 67.0L615.9 66.7L617.8 66.5L619.8 66.3L621.7 66.0L623.7 65.8L625.6 65.6L627.6 65.4L629.5 65.1L631.5 64.9L633.4 64.7L635.4 64.5L637.3 64.3L639.3 64.1L641.2 64.0L643.2 63.8L645.1 63.6L647.1 63.4L649.0 63.3L651.0 63.1L652.9 62.9L654.9 62.8L656.8 62.7L658.8 62.5L660.7 62.4L662.7 62.3L664.6 62.2L666.6 62.1L668.5 62.0" fill="none" stroke="#000" stroke-width="1.5" stroke-linejoin="round"/>
<path d="M83.5 314.1h0M85.5 314.1h0M87.4 314.1h0M89.4 314.1h0M91.3 314.1h0M93.3 314.1h0M95.2 314.1h0M97.2 314.1h0M99.1 314.1h0M101.1 314.1h0M103.0 314.1h0M105.0 314.1h0M106.9 314.1h0M108.9 314.1h0M110.8 314.1h0M112.8 314.1h0M114.7 314.1h0M116.7 314.0h0M118.6 314.0h0M120.6 314.0h0M122.5 314.0h0M124.5 314.0h0M126.4 314.0h0M128.4 314.0h0M130.3 314.0h0M132.3 313.9h0M134.2 313.9h0M136.2 313.9h0M138.1 313.8h0M140.1 313.7h0M142.0 313.7h0M144.0 313.6h0M145.9 313.5h0M147.9 313.4h0M149.8 313.3h0M151.8 313.3h0M153.7 313.2h0M155.7 313.1h0M157.6 313.0h0M159.6 312.9h0M161.5 312.9h0M163.5 312.8h0M165.4 312.7h0M167.4 312.7h0M169.3 312.6h0M171.3 312.6h0M173.2 312.5h0M175.2 312.4h0M177.1 312.3h0M179.1 312.2h0M181.0 312.1h0M183.0 312.0h0M186.9 311.6h0M188.8 311.3h0M190.8 311.0h0M192.7 310.7h0M194.7 310.4h0M196.6 310.0h0M198.6 309.7h0M200.5 309.3h0M202.5 309.0h0M204.4 308.6h0M206.4 308.3h0M208.3 307.9h0M210.3 307.6h0M212.2 307.2h0M214.2 306.8h0M216.1 306.5h0M218.1 306.1h0M220.0 305.7h0M222.0 305.4h0M223.9 305.0h0M225.9 304.6h0M227.8 304.2h0M229.8 303.7h0M231.7 303.3h0M233.7 302.9h0M235.6 302.4h0M237.6 301.9h0M239.5 301.4h0M241.5 300.8h0M243.4 300.2h0M245.4 299.6h0M247.3 299.0h0M249.3 298.4h0M251.2 297.8h0M253.2 297.1h0M255.1 296.4h0M257.1 295.7h0M259.0 295.0h0M261.0 294.3h0M262.9 293.5h0M264.9 292.5h0M266.8 291.5h0M268.8 290.4h0M270.7 289.4h0M272.7 288.2h0M274.6 287.1h0M276.6 285.9h0M278.5 284.7h0M280.5 283.4h0M282.4 282.1h0M284.4 280.8h0M286.3 279.5h0M288.3 278.2h0M290.2 276.8h0M292.2 275.4h0M294.1 274.0h0M296.1 272.6h0M298.0 271.2h0M300.0 269.7h0M301.9 268.4h0M303.9 267.0h0M305.8 265.6h0M307.8 264.3h0M309.7 263.0h0M311.7 261.8h0M313.6 260.6h0M315.6 259.4h0M317.5 258.3h0M319.5 257.1h0M321.4 256.0h0M323.4 255.0h0M325.3 253.9h0M327.3 252.9h0M329.2 251.9h0M331.2 250.9h0M333.1 249.9h0M335.1 248.9h0M337.0 247.9h0M339.0 247.0h0M340.9 246.1h0M342.9 245.2h0M344.8 244.3h0M346.8 243.4h0M348.7 242.5h0M350.7 241.6h0M352.6 240.8h0M354.6 239.9h0M356.5 239.1h0M358.5 238.3h0M360.4 237.4h0M362.4 236.6h0M364.3 235.8h0M366.3 235.0h0M368.2 234.2h0M370.2 233.4h0M372.1 232.7h0M374.1 231.9h0M376.0 231.1h0M378.0 230.3h0M379.9 229.6h0M381.9 228.8h0M383.8 228.0h0M385.8 227.2h0M387.7 226.5h0M391.6 225.0h0M393.6 224.2h0M395.5 223.5h0M397.5 222.7h0M399.4 221.9h0M401.4 221.1h0M403.3 220.3h0M405.3 219.5h0M407.2 218.6h0M409.2 217.7h0M411.1 216.8h0M413.1 215.9h0M415.0 215.0h0M417.0 214.0h0M418.9 213.1h0M420.9 212.1h0M422.8 211.1h0M424.8 210.2h0M426.7 209.2h0M428.7 208.3h0M430.6 207.3h0M432.6 206.4h0M434.5 205.4h0M436.5 204.5h0M438.4 203.6h0M440.4 202.7h0M444.3 200.9h0M446.2 200.0h0M448.2 199.1h0M450.1 198.2h0M452.1 197.2h0M454.0 196.2h0M456.0 195.1h0M457.9 194.0h0M459.9 192.7h0M461.8 191.5h0M465.7 188.9h0M467.7 187.6h0M469.6 186.3h0M471.6 185.0h0M473.5 183.7h0M475.5 182.4h0M477.4 181.0h0M479.4 179.7h0M481.3 178.3h0M483.3 176.9h0M485.2 175.4h0M487.2 173.8h0M489.1 172.2h0M491.1 170.5h0M493.0 168.7h0M495.0 166.9h0M496.9 164.9h0M498.9 162.9h0M500.8 160.8h0M502.8 158.7h0M504.7 156.5h0M506.7 154.2h0M508.6 151.9h0M510.6 149.5h0M512.5 147.1h0M514.5 144.6h0M516.4 142.1h0M518.4 139.5h0M520.3 137.0h0M522.3 134.4h0M524.2 131.9h0M526.2 129.4h0M528.1 126.9h0M530.1 124.5h0M532.0 122.0h0M534.0 119.7h0M535.9 117.3h0M537.9 115.0h0M539.8 112.6h0M541.8 110.4h0M543.7 108.1h0M545.7 105.8h0M547.6 103.6h0M549.6 101.3h0M551.5 99.1h0M553.5 96.9h0M555.4 94.6h0M557.4 92.3h0M559.3 90.1h0M561.3 87.8h0M563.2 85.6h0M565.2 83.5h0M567.1 81.5h0M569.1 79.6h0M571.0 78.0h0M573.0 76.6h0M574.9 75.3h0M576.9 74.2h0M578.8 73.3h0M580.8 72.6h0M582.7 71.9h0M584.7 71.3h0M586.6 70.8h0M588.6 70.3h0M590.5 69.9h0M592.5 69.6h0M594.4 69.3h0M596.4 69.0h0M598.3 68.7h0M600.3 68.5h0M602.2 68.2h0M604.2 68.0h0M606.1 67.8h0M608.1 67.6h0M610.0 67.4h0M612.0 67.2h0M613.9 67.0h0M615.9 66.7h0M617.8 66.5h0M619.8 66.3h0M621.7 66.0h0M623.7 65.8h0M625.6 65.6h0M627.6 65.4h0M629.5 65.1h0M631.5 64.9h0M633.4 64.7h0M635.4 64.5h0M637.3 64.3h0M639.3 64.1h0M641.2 64.0h0M643.2 63.8h0M645.1 63.6h0M647.1 63.4h0M649.0 63.3h0M651.0 63.1h0M652.9 62.9h0M654.9 62.8h0M656.8 62.7h0M658.8 62.5h0M660.7 62.4h0M662.7 62.3h0M664.6 62.2h0M666.6 62.1h0M668.5 62.0h0" fill="none" stroke="#000" stroke-width="2.4" stroke-linecap="round"/>
<path d="M83.5 314.5L85.5 314.5L87.4 314.5L89.4 314.5L91.3 314.5L93.3 314.5L95.2 314.5L97.2 314.5L99.1 314.5L101.1 314.5L103.0 314.5L105.0 314.5L106.9 314.5L108.9 314.5L110.8 314.5L112.8 314.5L114.7 314.5L116.7 314.5L118.6 314.5L120.6 314.5L122.5 314.5L124.5 314.5L126.4 314.5L128.4 314.5L130.3 314.5L132.3 314.5L134.2 314.5L136.2 314.5L138.1 314.5L140.1 314.5L142.0 314.5L144.0 314.5L145.9 314.5L147.9 314.5L149.8 314.5L151.8 314.5L153.7 314.5L155.7 314.5L157.6 314.5L159.6 314.5L161.5 314.5L163.5 314.5L165.4 314.4L167.4 314.4L169.3 314.4L171.3 314.4L173.2 314.4L175.2 314.4L177.1 314.4L179.1 314.4L181.0 314.4L183.0 314.4L184.9 314.4L186.9 314.4L188.8 314.3L190.8 314.3L192.7 314.2L194.7 314.1L196.6 314.0L198.6 313.9L200.5 313.8L202.5 313.6L204.4 313.5L206.4 313.3L208.3 313.2L210.3 313.1L212.2 313.0L214.2 312.9L216.1 312.8L218.1 312.7L220.0 312.6L222.0 312.5L223.9 312.4L225.9 312.3L227.8 312.1L229.8 312.0L231.7 311.9L233.7 311.7L235.6 311.5L237.6 311.3L239.5 311.1L241.5 310.9L243.4 310.7L245.4 310.4L247.3 310.1L249.3 309.8L251.2 309.5L253.2 309.2L255.1 308.8L257.1 308.4L259.0 308.0L261.0 307.5L262.9 307.0L264.9 305.8L266.8 304.8L268.8 303.7L270.7 302.4L272.7 301.1L274.6 299.6L276.6 298.1L278.5 296.6L280.5 295.1L282.4 293.6L284.4 292.2L286.3 290.8L288.3 289.5L290.2 288.3L292.2 287.1L294.1 285.9L296.1 284.6L298.0 283.4L300.0 282.0L301.9 280.6L303.9 279.2L305.8 277.7L307.8 276.2L309.7 274.7L311.7 273.3L313.6 271.9L315.6 270.5L317.5 269.1L319.5 267.9L321.4 266.6L323.4 265.4L325.3 264.3L327.3 263.2L329.2 262.1L331.2 261.1L333.1 260.1L335.1 259.1L337.0 258.1L339.0 257.2L340.9 256.4L342.9 255.5L344.8 254.7L346.8 253.9L348.7 253.2L350.7 252.4L352.6 251.8L354.6 251.1L356.5 250.5L358.5 249.9L360.4 249.4L362.4 248.8L364.3 248.4L366.3 247.9L368.2 247.4L370.2 247.0L372.1 246.5L374.1 246.0L376.0 245.4L378.0 244.9L379.9 244.3L381.9 243.7L383.8 243.0L385.8 242.4L387.7 241.9M391.6 240.8L393.6 240.3L395.5 239.9L397.5 239.4L399.4 239.0L401.4 238.6L403.3 238.1L405.3 237.7L407.2 237.2L409.2 236.8L411.1 236.3L413.1 235.7L415.0 235.2L417.0 234.6L418.9 234.0L420.9 233.4L422.8 232.7L424.8 232.0L426.7 231.3L428.7 230.6L430.6 229.8L432.6 229.0L434.5 228.2L436.5 227.3L438.4 226.4L440.4 225.4M444.3 223.4L446.2 222.3M450.1 220.2L452.1 219.1L454.0 218.0L456.0 217.0L457.9 215.9L459.9 214.8L461.8 213.8L463.8 212.7L465.7 211.6L467.7 210.5L469.6 209.4L471.6 208.2L473.5 207.0L475.5 205.7L477.4 204.4L479.4 202.9L481.3 201.5L483.3 200.0L485.2 198.4L487.2 196.9L489.1 195.3L491.1 193.6L493.0 191.9L495.0 190.2L496.9 188.3L498.9 186.4L500.8 184.4L502.8 182.2L504.7 180.0L506.7 177.7L508.6 175.3L510.6 172.8L512.5 170.3L514.5 167.8L516.4 165.2L518.4 162.6L520.3 160.0L522.3 157.4L524.2 154.7L526.2 152.0L528.1 149.3L530.1 146.6L531.7 144.3M532.0 143.9L534.0 141.2L535.9 138.4L537.9 135.7L539.8 133.0L541.8 130.4L543.7 127.8L545.7 125.3L547.6 122.8L549.3 120.7M549.6 120.3L551.5 117.9L553.5 115.4L555.4 112.9L557.4 110.3L559.3 107.8L561.3 105.2L563.2 102.7L565.2 100.2L567.1 97.9L569.1 95.7L571.0 93.8L573.0 92.0L574.9 90.4L576.9 89.0L578.8 87.8L580.8 86.7L582.7 85.8L584.7 84.9L586.6 84.2L588.6 83.6L590.5 83.0L592.5 82.4L594.4 81.9M598.3 80.9L600.3 80.3L602.2 79.8L604.2 79.3L606.1 78.7L608.1 78.2L610.0 77.6L612.0 77.0L613.9 76.5L615.9 76.0L617.8 75.5L619.8 75.0L621.7 74.5L623.7 74.0L625.6 73.5L627.6 73.0L629.5 72.5L631.5 72.0L633.4 71.6L635.4 71.1L637.3 70.7L639.3 70.2L641.2 69.8L643.2 69.4L645.1 69.0L647.1 68.6L649.0 68.3L651.0 67.9L652.9 67.6L654.9 67.3L656.8 67.0L658.8 66.7L660.7 66.4L662.7 66.1L664.6 65.8L666.6 65.5L668.5 65.3" fill="none" stroke="#000" stroke-width="1.5" stroke-linejoin="round"/>
<path d="M83.5 314.5h0M85.5 314.5h0M87.4 314.5h0M89.4 314.5h0M91.3 314.5h0M93.3 314.5h0M95.2 314.5h0M97.2 314.5h0M99.1 314.5h0M101.1 314.5h0M103.0 314.5h0M105.0 314.5h0M106.9 314.5h0M108.9 314.5h0M110.8 314.5h0M112.8 314.5h0M114.7 314.5h0M116.7 314.5h0M118.6 314.5h0M120.6 314.5h0M122.5 314.5h0M124.5 314.5h0M126.4 314.5h0M128.4 314.5h0M130.3 314.5h0M132.3 314.5h0M134.2 314.5h0M136.2 314.5h0M138.1 314.5h0M140.1 314.5h0M142.0 314.5h0M144.0 314.5h0M145.9 314.5h0M147.9 314.5h0M149.8 314.5h0M151.8 314.5h0M153.7 314.5h0M155.7 314.5h0M157.6 314.5h0M159.6 314.5h0M161.5 314.5h0M163.5 314.5h0M165.4 314.4h0M167.4 314.4h0M169.3 314.4h0M171.3 314.4h0M173.2 314.4h0M175.2 314.4h0M177.1 314.4h0M179.1 314.4h0M181.0 314.4h0M183.0 314.4h0M184.9 314.4h0M186.9 314.4h0M188.8 314.3h0M190.8 314.3h0M192.7 314.2h0M194.7 314.1h0M196.6 314.0h0M198.6 313.9h0M200.5 313.8h0M202.5 313.6h0M204.4 313.5h0M206.4 313.3h0M208.3 313.2h0M210.3 313.1h0M212.2 313.0h0M214.2 312.9h0M216.1 312.8h0M218.1 312.7h0M220.0 312.6h0M222.0 312.5h0M223.9 312.4h0M225.9 312.3h0M227.8 312.1h0M229.8 312.0h0M231.7 311.9h0M233.7 311.7h0M235.6 311.5h0M237.6 311.3h0M239.5 311.1h0M241.5 310.9h0M243.4 310.7h0M245.4 310.4h0M247.3 310.1h0M249.3 309.8h0M251.2 309.5h0M253.2 309.2h0M255.1 308.8h0M257.1 308.4h0M259.0 308.0h0M261.0 307.5h0M262.9 307.0h0M264.9 305.8h0M266.8 304.8h0M268.8 303.7h0M270.7 302.4h0M272.7 301.1h0M274.6 299.6h0M276.6 298.1h0M278.5 296.6h0M280.5 295.1h0M282.4 293.6h0M284.4 292.2h0M286.3 290.8h0M288.3 289.5h0M290.2 288.3h0M292.2 287.1h0M294.1 285.9h0M296.1 284.6h0M298.0 283.4h0M300.0 282.0h0M301.9 280.6h0M303.9 279.2h0M305.8 277.7h0M307.8 276.2h0M309.7 274.7h0M311.7 273.3h0M313.6 271.9h0M315.6 270.5h0M317.5 269.1h0M319.5 267.9h0M321.4 266.6h0M323.4 265.4h0M325.3 264.3h0M327.3 263.2h0M329.2 262.1h0M331.2 261.1h0M333.1 260.1h0M335.1 259.1h0M337.0 258.1h0M339.0 257.2h0M340.9 256.4h0M342.9 255.5h0M344.8 254.7h0M346.8 253.9h0M348.7 253.2h0M350.7 252.4h0M352.6 251.8h0M354.6 251.1h0M356.5 250.5h0M358.5 249.9h0M360.4 249.4h0M362.4 248.8h0M364.3 248.4h0M366.3 247.9h0M368.2 247.4h0M370.2 247.0h0M372.1 246.5h0M374.1 246.0h0M376.0 245.4h0M378.0 244.9h0M379.9 244.3h0M381.9 243.7h0M383.8 243.0h0M385.8 242.4h0M387.7 241.9h0M391.6 240.8h0M393.6 240.3h0M395.5 239.9h0M397.5 239.4h0M399.4 239.0h0M401.4 238.6h0M403.3 238.1h0M405.3 237.7h0M407.2 237.2h0M409.2 236.8h0M411.1 236.3h0M413.1 235.7h0M415.0 235.2h0M417.0 234.6h0M418.9 234.0h0M420.9 233.4h0M422.8 232.7h0M424.8 232.0h0M426.7 231.3h0M428.7 230.6h0M430.6 229.8h0M432.6 229.0h0M434.5 228.2h0M436.5 227.3h0M438.4 226.4h0M440.4 225.4h0M444.3 223.4h0M446.2 222.3h0M450.1 220.2h0M452.1 219.1h0M454.0 218.0h0M456.0 217.0h0M457.9 215.9h0M459.9 214.8h0M461.8 213.8h0M463.8 212.7h0M465.7 211.6h0M467.7 210.5h0M469.6 209.4h0M471.6 208.2h0M473.5 207.0h0M475.5 205.7h0M477.4 204.4h0M479.4 202.9h0M481.3 201.5h0M483.3 200.0h0M485.2 198.4h0M487.2 196.9h0M489.1 195.3h0M491.1 193.6h0M493.0 191.9h0M495.0 190.2h0M496.9 188.3h0M498.9 186.4h0M500.8 184.4h0M502.8 182.2h0M504.7 180.0h0M506.7 177.7h0M508.6 175.3h0M510.6 172.8h0M512.5 170.3h0M514.5 167.8h0M516.4 165.2h0M518.4 162.6h0M520.3 160.0h0M522.3 157.4h0M524.2 154.7h0M526.2 152.0h0M528.1 149.3h0M530.1 146.6h0M532.0 143.9h0M534.0 141.2h0M535.9 138.4h0M537.9 135.7h0M539.8 133.0h0M541.8 130.4h0M543.7 127.8h0M545.7 125.3h0M547.6 122.8h0M549.6 120.3h0M551.5 117.9h0M553.5 115.4h0M555.4 112.9h0M557.4 110.3h0M559.3 107.8h0M561.3 105.2h0M563.2 102.7h0M565.2 100.2h0M567.1 97.9h0M569.1 95.7h0M571.0 93.8h0M573.0 92.0h0M574.9 90.4h0M576.9 89.0h0M578.8 87.8h0M580.8 86.7h0M582.7 85.8h0M584.7 84.9h0M586.6 84.2h0M588.6 83.6h0M590.5 83.0h0M592.5 82.4h0M594.4 81.9h0M598.3 80.9h0M600.3 80.3h0M602.2 79.8h0M604.2 79.3h0M606.1 78.7h0M608.1 78.2h0M610.0 77.6h0M612.0 77.0h0M613.9 76.5h0M615.9 76.0h0M617.8 75.5h0M619.8 75.0h0M621.7 74.5h0M623.7 74.0h0M625.6 73.5h0M627.6 73.0h0M629.5 72.5h0M631.5 72.0h0M633.4 71.6h0M635.4 71.1h0M637.3 70.7h0M639.3 70.2h0M641.2 69.8h0M643.2 69.4h0M645.1 69.0h0M647.1 68.6h0M649.0 68.3h0M651.0 67.9h0M652.9 67.6h0M654.9 67.3h0M656.8 67.0h0M658.8 66.7h0M660.7 66.4h0M662.7 66.1h0M664.6 65.8h0M666.6 65.5h0M668.5 65.3h0" fill="none" stroke="#000" stroke-width="2.4" stroke-linecap="round"/>
<path d="M83.5 315.0L85.5 315.0L87.4 315.0L89.4 315.1L91.3 315.1L93.3 315.1L95.2 315.1L97.2 315.1L99.1 315.1L101.1 315.2L103.0 315.2L105.0 315.2L106.9 315.2L108.9 315.2L110.8 315.2L112.8 315.2L114.7 315.3L116.7 315.3L118.6 315.3L120.6 315.3L122.5 315.3L124.5 315.3L126.4 315.3L128.4 315.3L130.3 315.3L132.3 315.4L134.2 315.4L136.2 315.4L138.1 315.4L140.1 315.4L142.0 315.4L144.0 315.4L145.9 315.4L147.9 315.4L149.8 315.4L151.8 315.4L153.7 315.4L155.7 315.4L157.6 315.4L159.6 315.4L161.5 315.4L163.5 315.4L165.4 315.4L167.4 315.4L169.3 315.4L171.3 315.4L173.2 315.4L175.2 315.4L177.1 315.4L179.1 315.4L181.0 315.4L183.0 315.4L184.9 315.4L186.9 315.4L188.8 315.4L190.8 315.4L192.7 315.4L194.7 315.4L196.6 315.4L198.6 315.4L200.5 315.4L202.5 315.4L204.4 315.4L206.4 315.4L208.3 315.4L210.3 315.4L212.2 315.4L214.2 315.4L216.1 315.4L218.1 315.4L220.0 315.4L222.0 315.4L223.9 315.4L225.9 315.4L227.8 315.4L229.8 315.4L231.7 315.4L233.7 315.4L235.6 315.4L237.6 315.4L239.5 315.4L241.5 315.4L243.4 315.3L245.4 315.3L247.3 315.3L249.3 315.3L251.2 315.2L253.2 315.2L255.1 315.1L257.1 315.0L259.0 314.9L261.0 314.7L262.9 314.4L264.9 313.4L266.8 312.1L268.8 310.8L270.7 309.4L272.7 307.8L274.6 306.2L276.6 304.6L278.5 302.8L280.5 301.1L282.1 299.6M282.4 299.4L284.4 297.6L286.0 296.2M286.3 295.9L288.3 294.3L290.2 292.7L292.2 291.1L294.1 289.7L296.1 288.3L298.0 287.0L300.0 285.7L301.9 284.5L303.9 283.2L305.8 281.9L307.8 280.7L309.7 279.4L311.7 278.2L313.6 276.9M317.5 274.6L319.5 273.4M323.4 271.3L325.3 270.3M329.2 268.3L331.2 267.4L333.1 266.5L335.1 265.6L337.0 264.7L339.0 263.9L340.9 263.0L342.9 262.2L344.8 261.4L346.8 260.6L348.7 259.9L350.7 259.1L352.6 258.4L354.6 257.8L356.5 257.1L358.5 256.5L360.4 255.9L362.4 255.4L364.3 254.9L366.3 254.4L368.2 253.9L370.2 253.4L372.1 252.9L374.1 252.4M378.0 251.5L379.9 251.1L381.9 250.7L383.8 250.3L385.8 249.9L387.7 249.5L389.7 249.2L391.6 248.9L393.6 248.6L395.5 248.4L397.5 248.3L399.4 248.2L401.4 248.2L403.3 248.2L405.3 248.2L407.2 248.2L409.2 248.2L411.1 248.3L413.1 248.2L415.0 248.2M418.9 247.9L420.9 247.7L422.8 247.4L424.8 247.1L426.7 246.7M430.6 245.8L432.6 245.2L434.5 244.7L436.5 244.0L438.4 243.4L440.4 242.7L442.3 242.0L444.3 241.3L446.2 240.5L448.2 239.7L450.1 238.9L452.1 238.1L454.0 237.3L456.0 236.3L457.9 235.4M469.6 228.5L471.6 227.3L473.5 226.0M477.4 223.5L479.4 222.2M483.3 219.6L485.2 218.2L487.2 216.7L489.1 215.2L491.1 213.5L493.0 211.8L495.0 210.0L496.9 208.1L498.9 206.1L500.8 204.0L502.8 201.9L504.7 199.6L506.7 197.3L508.6 194.9L510.6 192.4L512.5 189.9L514.5 187.3L516.4 184.6L518.4 181.8L520.3 178.9L522.3 176.1L524.2 173.1L526.2 170.2L528.1 167.3L530.1 164.4L532.0 161.5L534.0 158.5L535.9 155.6L537.9 152.7L539.8 149.7L541.8 146.6L543.7 143.6L545.7 140.5L547.6 137.5L549.6 134.4L551.5 131.4L553.5 128.5L555.4 125.5L557.4 122.6L559.3 119.9L561.3 117.2L563.2 114.7L565.2 112.3L567.1 110.1L568.8 108.3M569.1 108.0L571.0 105.9L573.0 104.0L574.9 102.0L576.9 100.1L578.8 98.3L580.8 96.6L582.7 94.9L584.7 93.4L586.6 92.1L588.6 90.8L590.5 89.6L592.5 88.6L594.4 87.6L596.4 86.7L598.3 85.8L600.3 85.0L602.2 84.3L604.2 83.5L606.1 82.8L608.1 82.1L610.0 81.4L612.0 80.7L613.9 80.0L615.9 79.3L617.8 78.6L619.8 77.9L621.7 77.2L623.7 76.5L625.6 75.9L627.6 75.2L629.5 74.5L631.5 73.8L633.4 73.2L635.4 72.6L637.3 72.0L639.3 71.4L641.2 70.8L643.2 70.3L645.1 69.9L647.1 69.4L649.0 69.0L651.0 68.6L652.9 68.3L654.9 68.0L656.8 67.7L658.8 67.4L660.7 67.2L662.7 67.0L664.6 66.8L666.6 66.6L668.5 66.4" fill="none" stroke="#000" stroke-width="1.5" stroke-linejoin="round"/>
<path d="M83.5 315.0h0M85.5 315.0h0M87.4 315.0h0M89.4 315.1h0M91.3 315.1h0M93.3 315.1h0M95.2 315.1h0M97.2 315.1h0M99.1 315.1h0M101.1 315.2h0M103.0 315.2h0M105.0 315.2h0M106.9 315.2h0M108.9 315.2h0M110.8 315.2h0M112.8 315.2h0M114.7 315.3h0M116.7 315.3h0M118.6 315.3h0M120.6 315.3h0M122.5 315.3h0M124.5 315.3h0M126.4 315.3h0M128.4 315.3h0M130.3 315.3h0M132.3 315.4h0M134.2 315.4h0M136.2 315.4h0M138.1 315.4h0M140.1 315.4h0M142.0 315.4h0M144.0 315.4h0M145.9 315.4h0M147.9 315.4h0M149.8 315.4h0M151.8 315.4h0M153.7 315.4h0M155.7 315.4h0M157.6 315.4h0M159.6 315.4h0M161.5 315.4h0M163.5 315.4h0M165.4 315.4h0M167.4 315.4h0M169.3 315.4h0M171.3 315.4h0M173.2 315.4h0M175.2 315.4h0M177.1 315.4h0M179.1 315.4h0M181.0 315.4h0M183.0 315.4h0M184.9 315.4h0M186.9 315.4h0M188.8 315.4h0M190.8 315.4h0M192.7 315.4h0M194.7 315.4h0M196.6 315.4h0M198.6 315.4h0M200.5 315.4h0M202.5 315.4h0M204.4 315.4h0M206.4 315.4h0M208.3 315.4h0M210.3 315.4h0M212.2 315.4h0M214.2 315.4h0M216.1 315.4h0M218.1 315.4h0M220.0 315.4h0M222.0 315.4h0M223.9 315.4h0M225.9 315.4h0M227.8 315.4h0M229.8 315.4h0M231.7 315.4h0M233.7 315.4h0M235.6 315.4h0M237.6 315.4h0M239.5 315.4h0M241.5 315.4h0M243.4 315.3h0M245.4 315.3h0M247.3 315.3h0M249.3 315.3h0M251.2 315.2h0M253.2 315.2h0M255.1 315.1h0M257.1 315.0h0M259.0 314.9h0M261.0 314.7h0M262.9 314.4h0M264.9 313.4h0M266.8 312.1h0M268.8 310.8h0M270.7 309.4h0M272.7 307.8h0M274.6 306.2h0M276.6 304.6h0M278.5 302.8h0M280.5 301.1h0M282.4 299.4h0M284.4 297.6h0M286.3 295.9h0M288.3 294.3h0M290.2 292.7h0M292.2 291.1h0M294.1 289.7h0M296.1 288.3h0M298.0 287.0h0M300.0 285.7h0M301.9 284.5h0M303.9 283.2h0M305.8 281.9h0M307.8 280.7h0M309.7 279.4h0M311.7 278.2h0M313.6 276.9h0M317.5 274.6h0M319.5 273.4h0M323.4 271.3h0M325.3 270.3h0M329.2 268.3h0M331.2 267.4h0M333.1 266.5h0M335.1 265.6h0M337.0 264.7h0M339.0 263.9h0M340.9 263.0h0M342.9 262.2h0M344.8 261.4h0M346.8 260.6h0M348.7 259.9h0M350.7 259.1h0M352.6 258.4h0M354.6 257.8h0M356.5 257.1h0M358.5 256.5h0M360.4 255.9h0M362.4 255.4h0M364.3 254.9h0M366.3 254.4h0M368.2 253.9h0M370.2 253.4h0M372.1 252.9h0M374.1 252.4h0M378.0 251.5h0M379.9 251.1h0M381.9 250.7h0M383.8 250.3h0M385.8 249.9h0M387.7 249.5h0M389.7 249.2h0M391.6 248.9h0M393.6 248.6h0M395.5 248.4h0M397.5 248.3h0M399.4 248.2h0M401.4 248.2h0M403.3 248.2h0M405.3 248.2h0M407.2 248.2h0M409.2 248.2h0M411.1 248.3h0M413.1 248.2h0M415.0 248.2h0M418.9 247.9h0M420.9 247.7h0M422.8 247.4h0M424.8 247.1h0M426.7 246.7h0M430.6 245.8h0M432.6 245.2h0M434.5 244.7h0M436.5 244.0h0M438.4 243.4h0M440.4 242.7h0M442.3 242.0h0M444.3 241.3h0M446.2 240.5h0M448.2 239.7h0M450.1 238.9h0M452.1 238.1h0M454.0 237.3h0M456.0 236.3h0M457.9 235.4h0M461.8 233.2h0M465.7 230.9h0M469.6 228.5h0M471.6 227.3h0M473.5 226.0h0M477.4 223.5h0M479.4 222.2h0M483.3 219.6h0M485.2 218.2h0M487.2 216.7h0M489.1 215.2h0M491.1 213.5h0M493.0 211.8h0M495.0 210.0h0M496.9 208.1h0M498.9 206.1h0M500.8 204.0h0M502.8 201.9h0M504.7 199.6h0M506.7 197.3h0M508.6 194.9h0M510.6 192.4h0M512.5 189.9h0M514.5 187.3h0M516.4 184.6h0M518.4 181.8h0M520.3 178.9h0M522.3 176.1h0M524.2 173.1h0M526.2 170.2h0M528.1 167.3h0M530.1 164.4h0M532.0 161.5h0M534.0 158.5h0M535.9 155.6h0M537.9 152.7h0M539.8 149.7h0M541.8 146.6h0M543.7 143.6h0M545.7 140.5h0M547.6 137.5h0M549.6 134.4h0M551.5 131.4h0M553.5 128.5h0M555.4 125.5h0M557.4 122.6h0M559.3 119.9h0M561.3 117.2h0M563.2 114.7h0M565.2 112.3h0M567.1 110.1h0M569.1 108.0h0M571.0 105.9h0M573.0 104.0h0M574.9 102.0h0M576.9 100.1h0M578.8 98.3h0M580.8 96.6h0M582.7 94.9h0M584.7 93.4h0M586.6 92.1h0M588.6 90.8h0M590.5 89.6h0M592.5 88.6h0M594.4 87.6h0M596.4 86.7h0M598.3 85.8h0M600.3 85.0h0M602.2 84.3h0M604.2 83.5h0M606.1 82.8h0M608.1 82.1h0M610.0 81.4h0M612.0 80.7h0M613.9 80.0h0M615.9 79.3h0M617.8 78.6h0M619.8 77.9h0M621.7 77.2h0M623.7 76.5h0M625.6 75.9h0M627.6 75.2h0M629.5 74.5h0M631.5 73.8h0M633.4 73.2h0M635.4 72.6h0M637.3 72.0h0M639.3 71.4h0M641.2 70.8h0M643.2 70.3h0M645.1 69.9h0M647.1 69.4h0M649.0 69.0h0M651.0 68.6h0M652.9 68.3h0M654.9 68.0h0M656.8 67.7h0M658.8 67.4h0M660.7 67.2h0M662.7 67.0h0M664.6 66.8h0M666.6 66.6h0M668.5 66.4h0" fill="none" stroke="#000" stroke-width="2.4" stroke-linecap="round"/>
</g>
<line x1="337.6" y1="147.8" x2="373.2" y2="194.1" stroke="#000" stroke-width="1.7"/><polygon points="379.3,202.0 368.9,194.9 372.9,193.6 375.1,190.1" fill="#000"/>
<line x1="359.4" y1="147.8" x2="405.5" y2="210.2" stroke="#000" stroke-width="1.7"/><polygon points="411.4,218.2 401.1,210.9 405.1,209.7 407.4,206.2" fill="#000"/>
<line x1="381.2" y1="147.8" x2="433.3" y2="220.1" stroke="#000" stroke-width="1.7"/><polygon points="439.2,228.2 429.0,220.7 433.0,219.6 435.3,216.2" fill="#000"/>
<line x1="410.3" y1="147.8" x2="467.5" y2="223.0" stroke="#000" stroke-width="1.7"/><polygon points="473.6,231.0 463.2,223.8 467.2,222.6 469.4,219.1" fill="#000"/>
<rect x="83.8" y="1.6" width="585.6" height="361.8" fill="none" stroke="#808080" stroke-width="1.3"/>
<path d="M113.09 363.4 v-4 M113.09 1.6 v2.3 M130.25 363.4 v-4 M130.25 1.6 v2.3 M142.43 363.4 v-4 M142.43 1.6 v2.3 M151.87 363.4 v-4 M151.87 1.6 v2.3 M159.59 363.4 v-4 M159.59 1.6 v2.3 M166.11 363.4 v-4 M166.11 1.6 v2.3 M171.77 363.4 v-4 M171.77 1.6 v2.3 M176.75 363.4 v-4 M176.75 1.6 v2.3 M181.21 363.4 v-6.5 M181.21 1.6 v5.5 M210.55 363.4 v-4 M210.55 1.6 v2.3 M227.71 363.4 v-4 M227.71 1.6 v2.3 M239.89 363.4 v-4 M239.89 1.6 v2.3 M249.33 363.4 v-4 M249.33 1.6 v2.3 M257.05 363.4 v-4 M257.05 1.6 v2.3 M263.57 363.4 v-4 M263.57 1.6 v2.3 M269.23 363.4 v-4 M269.23 1.6 v2.3 M274.21 363.4 v-4 M274.21 1.6 v2.3 M278.67 363.4 v-6.5 M278.67 1.6 v5.5 M308.01 363.4 v-4 M308.01 1.6 v2.3 M325.17 363.4 v-4 M325.17 1.6 v2.3 M337.35 363.4 v-4 M337.35 1.6 v2.3 M346.79 363.4 v-4 M346.79 1.6 v2.3 M354.51 363.4 v-4 M354.51 1.6 v2.3 M361.03 363.4 v-4 M361.03 1.6 v2.3 M366.69 363.4 v-4 M366.69 1.6 v2.3 M371.67 363.4 v-4 M371.67 1.6 v2.3 M376.13 363.4 v-6.5 M376.13 1.6 v5.5 M405.47 363.4 v-4 M405.47 1.6 v2.3 M422.63 363.4 v-4 M422.63 1.6 v2.3 M434.81 363.4 v-4 M434.81 1.6 v2.3 M444.25 363.4 v-4 M444.25 1.6 v2.3 M451.97 363.4 v-4 M451.97 1.6 v2.3 M458.49 363.4 v-4 M458.49 1.6 v2.3 M464.15 363.4 v-4 M464.15 1.6 v2.3 M469.13 363.4 v-4 M469.13 1.6 v2.3 M473.59 363.4 v-6.5 M473.59 1.6 v5.5 M502.93 363.4 v-4 M502.93 1.6 v2.3 M520.09 363.4 v-4 M520.09 1.6 v2.3 M532.27 363.4 v-4 M532.27 1.6 v2.3 M541.71 363.4 v-4 M541.71 1.6 v2.3 M549.43 363.4 v-4 M549.43 1.6 v2.3 M555.95 363.4 v-4 M555.95 1.6 v2.3 M561.61 363.4 v-4 M561.61 1.6 v2.3 M566.59 363.4 v-4 M566.59 1.6 v2.3 M571.05 363.4 v-6.5 M571.05 1.6 v5.5 M600.39 363.4 v-4 M600.39 1.6 v2.3 M617.55 363.4 v-4 M617.55 1.6 v2.3 M629.73 363.4 v-4 M629.73 1.6 v2.3 M639.17 363.4 v-4 M639.17 1.6 v2.3 M646.89 363.4 v-4 M646.89 1.6 v2.3 M653.41 363.4 v-4 M653.41 1.6 v2.3 M659.07 363.4 v-4 M659.07 1.6 v2.3 M664.05 363.4 v-4 M664.05 1.6 v2.3 M83.8 318.00 h6 M669.5 318.00 h-6 M83.8 272.82 h3 M669.5 272.82 h-3.5 M83.8 227.64 h6 M669.5 227.64 h-6 M83.8 182.46 h3 M669.5 182.46 h-3.5 M83.8 137.28 h6 M669.5 137.28 h-6 M83.8 92.10 h3 M669.5 92.10 h-3.5 M83.8 46.92 h6 M669.5 46.92 h-6" fill="none" stroke="#808080" stroke-width="1.2"/>
<text transform="translate(66.75,392.70) scale(1,1.040)" font-size="18" text-anchor="start" stroke="#000" stroke-width="0.35">10</text>
<text transform="translate(87.45,383.70) scale(1,1.100)" font-size="12.4" text-anchor="start" stroke="#000" stroke-width="0.35">10</text>
<text transform="translate(164.21,392.70) scale(1,1.040)" font-size="18" text-anchor="start" stroke="#000" stroke-width="0.35">10</text>
<text transform="translate(184.91,383.70) scale(1,1.100)" font-size="12.4" text-anchor="start" stroke="#000" stroke-width="0.35">11</text>
<text transform="translate(261.67,392.70) scale(1,1.040)" font-size="18" text-anchor="start" stroke="#000" stroke-width="0.35">10</text>
<text transform="translate(282.37,383.70) scale(1,1.100)" font-size="12.4" text-anchor="start" stroke="#000" stroke-width="0.35">12</text>
<text transform="translate(359.13,392.70) scale(1,1.040)" font-size="18" text-anchor="start" stroke="#000" stroke-width="0.35">10</text>
<text transform="translate(379.83,383.70) scale(1,1.100)" font-size="12.4" text-anchor="start" stroke="#000" stroke-width="0.35">13</text>
<text transform="translate(456.59,392.70) scale(1,1.040)" font-size="18" text-anchor="start" stroke="#000" stroke-width="0.35">10</text>
<text transform="translate(477.29,383.70) scale(1,1.100)" font-size="12.4" text-anchor="start" stroke="#000" stroke-width="0.35">14</text>
<text transform="translate(554.05,392.70) scale(1,1.040)" font-size="18" text-anchor="start" stroke="#000" stroke-width="0.35">10</text>
<text transform="translate(574.75,383.70) scale(1,1.100)" font-size="12.4" text-anchor="start" stroke="#000" stroke-width="0.35">15</text>
<text transform="translate(650.51,392.70) scale(1,1.040)" font-size="18" text-anchor="start" stroke="#000" stroke-width="0.35">10</text>
<text transform="translate(671.21,383.70) scale(1,1.100)" font-size="12.4" text-anchor="start" stroke="#000" stroke-width="0.35">16</text>
<text transform="translate(74.00,143.18) scale(1,1.040)" font-size="18" text-anchor="end" stroke="#000" stroke-width="0.35">100</text>
<text transform="translate(74.00,233.54) scale(1,1.040)" font-size="18" text-anchor="end" stroke="#000" stroke-width="0.35">1</text>
<text transform="translate(74.00,323.90) scale(1,1.040)" font-size="18" text-anchor="end" stroke="#000" stroke-width="0.35">0.01</text>
<text transform="translate(47.60,53.22) scale(1,1.040)" font-size="18" text-anchor="start" stroke="#000" stroke-width="0.35">10</text>
<text transform="translate(67.20,44.52) scale(1,1.080)" font-size="12.8" text-anchor="start" stroke="#000" stroke-width="0.35">4</text>
<text transform="translate(329.80,430.50) scale(1,1.040)" font-size="23" text-anchor="start" class="it" stroke="#000" stroke-width="0.35">f</text>
<text transform="translate(334.30,435.40) scale(1,1.040)" font-size="16.8" text-anchor="start" class="it" stroke="#000" stroke-width="0.35">a</text>
<text transform="translate(352.30,430.60) scale(1,1.040)" font-size="23.3" text-anchor="start" stroke="#000" stroke-width="0.35">(GeV)</text>
<text transform="translate(25.60,205.20) rotate(-90) scale(1,1.070)" font-size="24" text-anchor="start" stroke="#000" stroke-width="0.35">&#937;</text>
<text transform="translate(25.60,178.60) rotate(-90) scale(1,1.040)" font-size="23" text-anchor="start" class="it" stroke="#000" stroke-width="0.35">h</text>
<text transform="translate(11.60,166.00) rotate(-90) scale(1,1.060)" font-size="16.3" text-anchor="start" stroke="#000" stroke-width="0.35">2</text>
<line x1="107.4" y1="30.6" x2="124.1" y2="30.6" stroke="#000" stroke-width="3.6"/>
<line x1="107.4" y1="61.4" x2="124.1" y2="61.4" stroke="#ff8000" stroke-width="3.6"/>
<text transform="translate(132.60,40.80) scale(1,1.045)" font-size="21" text-anchor="start" class="it" stroke="#000" stroke-width="0.35">T</text>
<text transform="translate(144.60,45.00) scale(1,1.045)" font-size="15" text-anchor="start" class="it" stroke="#000" stroke-width="0.35">R</text>
<text transform="translate(158.60,40.80) scale(1,1.045)" font-size="21" text-anchor="start" stroke="#000" stroke-width="0.35">=</text>
<text transform="translate(172.40,40.80) scale(1,1.045)" font-size="21" text-anchor="start" stroke="#000" stroke-width="0.35">10</text>
<text transform="translate(195.40,30.50) scale(1,1.060)" font-size="15" text-anchor="start" stroke="#000" stroke-width="0.35">8</text>
<text transform="translate(211.00,40.80) scale(1,1.045)" font-size="21" text-anchor="start" stroke="#000" stroke-width="0.35">GeV</text>
<text transform="translate(132.60,70.90) scale(1,1.045)" font-size="21" text-anchor="start" class="it" stroke="#000" stroke-width="0.35">T</text>
<text transform="translate(144.60,75.10) scale(1,1.045)" font-size="15" text-anchor="start" class="it" stroke="#000" stroke-width="0.35">R</text>
<text transform="translate(158.60,70.90) scale(1,1.045)" font-size="21" text-anchor="start" stroke="#000" stroke-width="0.35">=</text>
<text transform="translate(172.40,70.90) scale(1,1.045)" font-size="21" text-anchor="start" stroke="#000" stroke-width="0.35">10</text>
<text transform="translate(195.40,60.60) scale(1,1.060)" font-size="15" text-anchor="start" stroke="#000" stroke-width="0.35">6</text>
<text transform="translate(211.00,70.90) scale(1,1.045)" font-size="21" text-anchor="start" stroke="#000" stroke-width="0.35">GeV</text>
<text transform="translate(326.20,44.10) scale(1,1.045)" font-size="21.5" text-anchor="start" stroke="#000" stroke-width="0.5">landSUSY</text>
<text transform="translate(297.50,141.20) scale(1,1.040)" font-size="16" text-anchor="start" class="it" stroke="#000" stroke-width="0.3">&#952;</text>
<text transform="translate(307.40,144.40) scale(1,1.040)" font-size="11.5" text-anchor="start" class="it" stroke="#000" stroke-width="0.3">i</text>
<text transform="translate(317.30,141.20) scale(1,1.040)" font-size="16" text-anchor="start" stroke="#000" stroke-width="0.3">=</text>
<text transform="translate(332.20,141.20) scale(1,1.040)" font-size="16" text-anchor="start" stroke="#000" stroke-width="0.3">2,</text>
<text transform="translate(353.90,141.20) scale(1,1.040)" font-size="16" text-anchor="start" stroke="#000" stroke-width="0.3">1,</text>
<text transform="translate(374.40,141.20) scale(1,1.040)" font-size="16" text-anchor="start" stroke="#000" stroke-width="0.3">.5,</text>
<text transform="translate(400.20,141.20) scale(1,1.040)" font-size="16" text-anchor="start" stroke="#000" stroke-width="0.3">.1</text>
</svg></body></html>
